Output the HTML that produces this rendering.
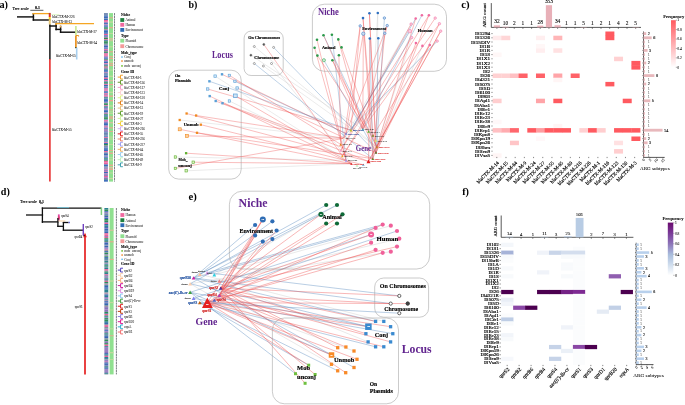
<!DOCTYPE html>
<html><head><meta charset="utf-8"><style>
html,body{margin:0;padding:0;background:#fff;width:685px;height:405px;overflow:hidden}
svg{display:block;font-family:"Liberation Serif",serif;will-change:transform}
</style></head><body>
<svg width="685" height="405" viewBox="0 0 685 405">
<rect width="685" height="405" fill="#fff"/>
<text x="-0.60" y="7.70" font-size="10" text-anchor="start" fill="#000" font-weight="bold" textLength="8.5" lengthAdjust="spacingAndGlyphs">a)</text>
<text x="12.40" y="10.40" font-size="4.9" text-anchor="start" fill="#000" stroke="#000" stroke-width="0.15" textLength="16.3" lengthAdjust="spacingAndGlyphs">Tree scale</text>
<line x1="30.30" y1="10.30" x2="43.40" y2="10.30" stroke="#222" stroke-width="0.75"/>
<text x="37.50" y="8.90" font-size="3.4" text-anchor="middle" fill="#000" stroke="#000" stroke-width="0.15" font-weight="bold" textLength="4.8" lengthAdjust="spacingAndGlyphs">0.1</text>
<line x1="17.00" y1="16.90" x2="34.10" y2="16.90" stroke="#111" stroke-width="1.45"/>
<line x1="33.40" y1="13.00" x2="33.40" y2="20.70" stroke="#111" stroke-width="1.45"/>
<line x1="33.40" y1="13.00" x2="33.40" y2="14.30" stroke="#f5a623" stroke-width="1.45"/>
<line x1="32.70" y1="13.60" x2="49.30" y2="13.60" stroke="#f5a623" stroke-width="1.3"/>
<line x1="32.70" y1="20.00" x2="50.50" y2="20.00" stroke="#111" stroke-width="1.45"/>
<line x1="49.75" y1="12.90" x2="49.75" y2="15.00" stroke="#c04030" stroke-width="2.0"/>
<line x1="49.75" y1="15.00" x2="49.75" y2="17.00" stroke="#e83020" stroke-width="2.0"/>
<line x1="49.75" y1="17.00" x2="49.75" y2="19.50" stroke="#f0d020" stroke-width="2.0"/>
<line x1="49.75" y1="19.50" x2="49.75" y2="24.50" stroke="#e8c878" stroke-width="2.0"/>
<line x1="51.40" y1="14.70" x2="59.40" y2="14.70" stroke="#d0f0b0" stroke-width="0.7"/>
<line x1="49.90" y1="24.50" x2="49.90" y2="59.50" stroke="#111" stroke-width="1.45"/>
<line x1="49.90" y1="59.00" x2="49.90" y2="181.60" stroke="#e52020" stroke-width="1.5"/>
<line x1="49.20" y1="26.00" x2="56.80" y2="26.00" stroke="#111" stroke-width="1.45"/>
<line x1="56.10" y1="23.50" x2="56.10" y2="30.20" stroke="#111" stroke-width="1.45"/>
<line x1="56.10" y1="23.00" x2="56.10" y2="25.00" stroke="#f5a623" stroke-width="1.45"/>
<line x1="56.10" y1="23.60" x2="94.00" y2="23.60" stroke="#f5a623" stroke-width="1.3"/>
<line x1="55.40" y1="29.40" x2="61.30" y2="29.40" stroke="#111" stroke-width="1.45"/>
<line x1="60.60" y1="25.70" x2="60.60" y2="32.90" stroke="#111" stroke-width="1.45"/>
<line x1="60.60" y1="25.70" x2="60.60" y2="27.50" stroke="#f0b060" stroke-width="1.45"/>
<line x1="59.90" y1="32.20" x2="75.90" y2="32.20" stroke="#111" stroke-width="1.45"/>
<line x1="75.90" y1="26.00" x2="75.90" y2="35.30" stroke="#c8e890" stroke-width="1.6"/>
<line x1="75.90" y1="35.50" x2="75.90" y2="47.70" stroke="#e88a10" stroke-width="1.6"/>
<line x1="75.90" y1="35.50" x2="78.60" y2="35.50" stroke="#e88a10" stroke-width="0.9"/>
<line x1="78.60" y1="35.50" x2="78.60" y2="36.60" stroke="#e88a10" stroke-width="0.9"/>
<line x1="75.90" y1="47.00" x2="75.90" y2="48.20" stroke="#405030" stroke-width="1.6"/>
<line x1="76.70" y1="47.70" x2="76.70" y2="59.50" stroke="#a8d0f0" stroke-width="1.6"/>
<text x="52.30" y="18.00" font-size="4.0" text-anchor="start" fill="#000" stroke="#000" stroke-width="0.04" textLength="22.2" lengthAdjust="spacingAndGlyphs">blaCTX-M-226</text>
<text x="52.40" y="22.60" font-size="4.0" text-anchor="start" fill="#000" stroke="#000" stroke-width="0.04" textLength="19.5" lengthAdjust="spacingAndGlyphs">blaCTX-M-13</text>
<text x="77.30" y="33.00" font-size="4.0" text-anchor="start" fill="#000" stroke="#000" stroke-width="0.04" textLength="19.5" lengthAdjust="spacingAndGlyphs">blaCTX-M-27</text>
<text x="77.40" y="43.90" font-size="4.0" text-anchor="start" fill="#000" stroke="#000" stroke-width="0.04" textLength="19.5" lengthAdjust="spacingAndGlyphs">blaCTX-M-14</text>
<text x="75.60" y="57.20" font-size="4.0" text-anchor="end" fill="#000" stroke="#000" stroke-width="0.04" textLength="19.7" lengthAdjust="spacingAndGlyphs">blaCTX-M-65</text>
<text x="51.90" y="130.70" font-size="4.0" text-anchor="start" fill="#000" stroke="#000" stroke-width="0.04" textLength="19.7" lengthAdjust="spacingAndGlyphs">blaCTX-M-55</text>
<rect x="104.00" y="13.10" width="3.90" height="1.05" fill="#6a84b0"/>
<rect x="104.00" y="14.10" width="3.90" height="1.65" fill="#6a84b0"/>
<rect x="104.00" y="15.70" width="3.90" height="1.05" fill="#3a6ab8"/>
<rect x="104.00" y="16.70" width="3.90" height="1.65" fill="#3a6ab8"/>
<rect x="104.00" y="18.30" width="3.90" height="0.75" fill="#6a84b0"/>
<rect x="104.00" y="19.00" width="3.90" height="1.05" fill="#3a6ab8"/>
<rect x="104.00" y="20.00" width="3.90" height="1.65" fill="#e8609a"/>
<rect x="104.00" y="21.60" width="3.90" height="1.05" fill="#e8609a"/>
<rect x="104.00" y="22.60" width="3.90" height="0.55" fill="#3a6ab8"/>
<rect x="104.00" y="23.10" width="3.90" height="1.35" fill="#3a6ab8"/>
<rect x="104.00" y="24.40" width="3.90" height="1.05" fill="#c070b0"/>
<rect x="104.00" y="25.40" width="3.90" height="1.05" fill="#3a6ab8"/>
<rect x="104.00" y="26.40" width="3.90" height="1.05" fill="#3a6ab8"/>
<rect x="104.00" y="27.40" width="3.90" height="1.05" fill="#2e8b57"/>
<rect x="104.00" y="28.40" width="3.90" height="1.05" fill="#2e8b57"/>
<rect x="104.00" y="29.40" width="3.90" height="0.55" fill="#e8609a"/>
<rect x="104.00" y="29.90" width="3.90" height="0.75" fill="#3a6ab8"/>
<rect x="104.00" y="30.60" width="3.90" height="1.65" fill="#3a6ab8"/>
<rect x="104.00" y="32.20" width="3.90" height="1.05" fill="#3a6ab8"/>
<rect x="104.00" y="33.20" width="3.90" height="0.75" fill="#3a6ab8"/>
<rect x="104.00" y="33.90" width="3.90" height="1.35" fill="#e8609a"/>
<rect x="104.00" y="35.20" width="3.90" height="0.55" fill="#3a6ab8"/>
<rect x="104.00" y="35.70" width="3.90" height="1.05" fill="#3a6ab8"/>
<rect x="104.00" y="36.70" width="3.90" height="1.05" fill="#c070b0"/>
<rect x="104.00" y="37.70" width="3.90" height="1.65" fill="#2e8b57"/>
<rect x="104.00" y="39.30" width="3.90" height="0.85" fill="#e8609a"/>
<rect x="104.00" y="40.10" width="3.90" height="0.75" fill="#3a6ab8"/>
<rect x="104.00" y="40.80" width="3.90" height="0.55" fill="#2e8b57"/>
<rect x="104.00" y="41.30" width="3.90" height="1.65" fill="#2e8b57"/>
<rect x="104.00" y="42.90" width="3.90" height="0.55" fill="#6a84b0"/>
<rect x="104.00" y="43.40" width="3.90" height="1.05" fill="#2e8b57"/>
<rect x="104.00" y="44.40" width="3.90" height="0.55" fill="#6a84b0"/>
<rect x="104.00" y="44.90" width="3.90" height="0.55" fill="#e8609a"/>
<rect x="104.00" y="45.40" width="3.90" height="0.55" fill="#3a6ab8"/>
<rect x="104.00" y="45.90" width="3.90" height="1.35" fill="#3a6ab8"/>
<rect x="104.00" y="47.20" width="3.90" height="0.55" fill="#3a6ab8"/>
<rect x="104.00" y="47.70" width="3.90" height="0.75" fill="#9070b8"/>
<rect x="104.00" y="48.40" width="3.90" height="0.85" fill="#3a6ab8"/>
<rect x="104.00" y="49.20" width="3.90" height="0.85" fill="#e8609a"/>
<rect x="104.00" y="50.00" width="3.90" height="1.05" fill="#9070b8"/>
<rect x="104.00" y="51.00" width="3.90" height="0.55" fill="#e8609a"/>
<rect x="104.00" y="51.50" width="3.90" height="1.35" fill="#2e8b57"/>
<rect x="104.00" y="52.80" width="3.90" height="0.55" fill="#3a6ab8"/>
<rect x="104.00" y="53.30" width="3.90" height="1.05" fill="#e8609a"/>
<rect x="104.00" y="54.30" width="3.90" height="1.05" fill="#e8609a"/>
<rect x="104.00" y="55.30" width="3.90" height="1.05" fill="#e8609a"/>
<rect x="104.00" y="56.30" width="3.90" height="1.35" fill="#9070b8"/>
<rect x="104.00" y="57.60" width="3.90" height="1.05" fill="#3a6ab8"/>
<rect x="104.00" y="58.60" width="3.90" height="0.55" fill="#3a6ab8"/>
<rect x="104.00" y="59.10" width="3.90" height="0.75" fill="#2e8b57"/>
<rect x="104.00" y="59.80" width="3.90" height="1.65" fill="#c070b0"/>
<rect x="104.00" y="61.40" width="3.90" height="1.65" fill="#3a6ab8"/>
<rect x="104.00" y="63.00" width="3.90" height="0.55" fill="#e8609a"/>
<rect x="104.00" y="63.50" width="3.90" height="1.05" fill="#c070b0"/>
<rect x="104.00" y="64.50" width="3.90" height="1.05" fill="#3a6ab8"/>
<rect x="104.00" y="65.50" width="3.90" height="0.55" fill="#2e8b57"/>
<rect x="104.00" y="66.00" width="3.90" height="0.75" fill="#e8609a"/>
<rect x="104.00" y="66.70" width="3.90" height="0.85" fill="#2e8b57"/>
<rect x="104.00" y="67.50" width="3.90" height="1.05" fill="#e8609a"/>
<rect x="104.00" y="68.50" width="3.90" height="0.85" fill="#3a6ab8"/>
<rect x="104.00" y="69.30" width="3.90" height="0.55" fill="#2e8b57"/>
<rect x="104.00" y="69.80" width="3.90" height="1.05" fill="#3a6ab8"/>
<rect x="104.00" y="70.80" width="3.90" height="0.55" fill="#3a6ab8"/>
<rect x="104.00" y="71.30" width="3.90" height="0.85" fill="#3a6ab8"/>
<rect x="104.00" y="72.10" width="3.90" height="0.75" fill="#c070b0"/>
<rect x="104.00" y="72.80" width="3.90" height="1.05" fill="#6a84b0"/>
<rect x="104.00" y="73.80" width="3.90" height="0.75" fill="#6a84b0"/>
<rect x="104.00" y="74.50" width="3.90" height="0.75" fill="#3a6ab8"/>
<rect x="104.00" y="75.20" width="3.90" height="0.85" fill="#6a84b0"/>
<rect x="104.00" y="76.00" width="3.90" height="1.65" fill="#3a6ab8"/>
<rect x="104.00" y="77.60" width="3.90" height="1.35" fill="#e8609a"/>
<rect x="104.00" y="78.90" width="3.90" height="1.35" fill="#3a6ab8"/>
<rect x="104.00" y="80.20" width="3.90" height="1.05" fill="#e8609a"/>
<rect x="104.00" y="81.20" width="3.90" height="1.05" fill="#6a84b0"/>
<rect x="104.00" y="82.20" width="3.90" height="1.05" fill="#2e8b57"/>
<rect x="104.00" y="83.20" width="3.90" height="0.55" fill="#2e8b57"/>
<rect x="104.00" y="83.70" width="3.90" height="0.55" fill="#3a6ab8"/>
<rect x="104.00" y="84.20" width="3.90" height="0.85" fill="#e8609a"/>
<rect x="104.00" y="85.00" width="3.90" height="1.35" fill="#3a6ab8"/>
<rect x="104.00" y="86.30" width="3.90" height="1.05" fill="#6a84b0"/>
<rect x="104.00" y="87.30" width="3.90" height="1.05" fill="#3a6ab8"/>
<rect x="104.00" y="88.30" width="3.90" height="1.05" fill="#e8609a"/>
<rect x="104.00" y="89.30" width="3.90" height="1.35" fill="#c070b0"/>
<rect x="104.00" y="90.60" width="3.90" height="0.75" fill="#e8609a"/>
<rect x="104.00" y="91.30" width="3.90" height="1.05" fill="#3a6ab8"/>
<rect x="104.00" y="92.30" width="3.90" height="1.05" fill="#3a6ab8"/>
<rect x="104.00" y="93.30" width="3.90" height="0.85" fill="#e8609a"/>
<rect x="104.00" y="94.10" width="3.90" height="0.75" fill="#9070b8"/>
<rect x="104.00" y="94.80" width="3.90" height="0.55" fill="#e8609a"/>
<rect x="104.00" y="95.30" width="3.90" height="1.05" fill="#e8609a"/>
<rect x="104.00" y="96.30" width="3.90" height="0.55" fill="#e8609a"/>
<rect x="104.00" y="96.80" width="3.90" height="0.85" fill="#3a6ab8"/>
<rect x="104.00" y="97.60" width="3.90" height="0.75" fill="#2e8b57"/>
<rect x="104.00" y="98.30" width="3.90" height="0.75" fill="#6a84b0"/>
<rect x="104.00" y="99.00" width="3.90" height="0.85" fill="#3a6ab8"/>
<rect x="104.00" y="99.80" width="3.90" height="1.35" fill="#3a6ab8"/>
<rect x="104.00" y="101.10" width="3.90" height="0.75" fill="#3a6ab8"/>
<rect x="104.00" y="101.80" width="3.90" height="0.55" fill="#3a6ab8"/>
<rect x="104.00" y="102.30" width="3.90" height="0.85" fill="#9070b8"/>
<rect x="104.00" y="103.10" width="3.90" height="0.55" fill="#2e8b57"/>
<rect x="104.00" y="103.60" width="3.90" height="1.35" fill="#2e8b57"/>
<rect x="104.00" y="104.90" width="3.90" height="0.55" fill="#9070b8"/>
<rect x="104.00" y="105.40" width="3.90" height="0.85" fill="#e8609a"/>
<rect x="104.00" y="106.20" width="3.90" height="0.55" fill="#2e8b57"/>
<rect x="104.00" y="106.70" width="3.90" height="1.05" fill="#3a6ab8"/>
<rect x="104.00" y="107.70" width="3.90" height="0.55" fill="#6a84b0"/>
<rect x="104.00" y="108.20" width="3.90" height="1.35" fill="#9070b8"/>
<rect x="104.00" y="109.50" width="3.90" height="0.75" fill="#9070b8"/>
<rect x="104.00" y="110.20" width="3.90" height="0.85" fill="#3a6ab8"/>
<rect x="104.00" y="111.00" width="3.90" height="1.35" fill="#3a6ab8"/>
<rect x="104.00" y="112.30" width="3.90" height="0.55" fill="#6a84b0"/>
<rect x="104.00" y="112.80" width="3.90" height="1.05" fill="#c070b0"/>
<rect x="104.00" y="113.80" width="3.90" height="0.55" fill="#6a84b0"/>
<rect x="104.00" y="114.30" width="3.90" height="1.05" fill="#2e8b57"/>
<rect x="104.00" y="115.30" width="3.90" height="1.35" fill="#3a6ab8"/>
<rect x="104.00" y="116.60" width="3.90" height="1.05" fill="#2e8b57"/>
<rect x="104.00" y="117.60" width="3.90" height="0.55" fill="#2e8b57"/>
<rect x="104.00" y="118.10" width="3.90" height="1.35" fill="#2e8b57"/>
<rect x="104.00" y="119.40" width="3.90" height="0.85" fill="#6a84b0"/>
<rect x="104.00" y="120.20" width="3.90" height="1.35" fill="#e8609a"/>
<rect x="104.00" y="121.50" width="3.90" height="1.35" fill="#9070b8"/>
<rect x="104.00" y="122.80" width="3.90" height="1.05" fill="#3a6ab8"/>
<rect x="104.00" y="123.80" width="3.90" height="1.65" fill="#3a6ab8"/>
<rect x="104.00" y="125.40" width="3.90" height="1.05" fill="#9070b8"/>
<rect x="104.00" y="126.40" width="3.90" height="0.55" fill="#e8609a"/>
<rect x="104.00" y="126.90" width="3.90" height="0.55" fill="#3a6ab8"/>
<rect x="104.00" y="127.40" width="3.90" height="0.75" fill="#c070b0"/>
<rect x="104.00" y="128.10" width="3.90" height="0.55" fill="#3a6ab8"/>
<rect x="104.00" y="128.60" width="3.90" height="1.05" fill="#3a6ab8"/>
<rect x="104.00" y="129.60" width="3.90" height="1.05" fill="#e8609a"/>
<rect x="104.00" y="130.60" width="3.90" height="0.55" fill="#3a6ab8"/>
<rect x="104.00" y="131.10" width="3.90" height="0.75" fill="#9070b8"/>
<rect x="104.00" y="131.80" width="3.90" height="0.75" fill="#3a6ab8"/>
<rect x="104.00" y="132.50" width="3.90" height="1.65" fill="#6a84b0"/>
<rect x="104.00" y="134.10" width="3.90" height="1.35" fill="#6a84b0"/>
<rect x="104.00" y="135.40" width="3.90" height="1.05" fill="#6a84b0"/>
<rect x="104.00" y="136.40" width="3.90" height="0.85" fill="#3a6ab8"/>
<rect x="104.00" y="137.20" width="3.90" height="0.85" fill="#e8609a"/>
<rect x="104.00" y="138.00" width="3.90" height="1.05" fill="#6a84b0"/>
<rect x="104.00" y="139.00" width="3.90" height="1.65" fill="#6a84b0"/>
<rect x="104.00" y="140.60" width="3.90" height="0.75" fill="#3a6ab8"/>
<rect x="104.00" y="141.30" width="3.90" height="1.05" fill="#6a84b0"/>
<rect x="104.00" y="142.30" width="3.90" height="0.75" fill="#e8609a"/>
<rect x="104.00" y="143.00" width="3.90" height="1.05" fill="#3a6ab8"/>
<rect x="104.00" y="144.00" width="3.90" height="1.65" fill="#2e8b57"/>
<rect x="104.00" y="145.60" width="3.90" height="0.55" fill="#c070b0"/>
<rect x="104.00" y="146.10" width="3.90" height="0.85" fill="#6a84b0"/>
<rect x="104.00" y="146.90" width="3.90" height="0.55" fill="#3a6ab8"/>
<rect x="104.00" y="147.40" width="3.90" height="0.85" fill="#6a84b0"/>
<rect x="104.00" y="148.20" width="3.90" height="1.65" fill="#3a6ab8"/>
<rect x="104.00" y="149.80" width="3.90" height="1.35" fill="#3a6ab8"/>
<rect x="104.00" y="151.10" width="3.90" height="1.35" fill="#e8609a"/>
<rect x="104.00" y="152.40" width="3.90" height="1.65" fill="#6a84b0"/>
<rect x="104.00" y="154.00" width="3.90" height="1.05" fill="#3a6ab8"/>
<rect x="104.00" y="155.00" width="3.90" height="0.55" fill="#6a84b0"/>
<rect x="104.00" y="155.50" width="3.90" height="0.85" fill="#6a84b0"/>
<rect x="104.00" y="156.30" width="3.90" height="0.55" fill="#9070b8"/>
<rect x="104.00" y="156.80" width="3.90" height="0.85" fill="#3a6ab8"/>
<rect x="104.00" y="157.60" width="3.90" height="0.85" fill="#3a6ab8"/>
<rect x="104.00" y="158.40" width="3.90" height="1.05" fill="#2e8b57"/>
<rect x="104.00" y="159.40" width="3.90" height="0.75" fill="#3a6ab8"/>
<rect x="104.00" y="160.10" width="3.90" height="0.75" fill="#2e8b57"/>
<rect x="104.00" y="160.80" width="3.90" height="1.65" fill="#e8609a"/>
<rect x="104.00" y="162.40" width="3.90" height="1.65" fill="#e8609a"/>
<rect x="104.00" y="164.00" width="3.90" height="0.55" fill="#c070b0"/>
<rect x="104.00" y="164.50" width="3.90" height="0.55" fill="#3a6ab8"/>
<rect x="104.00" y="165.00" width="3.90" height="1.35" fill="#3a6ab8"/>
<rect x="104.00" y="166.30" width="3.90" height="1.35" fill="#6a84b0"/>
<rect x="104.00" y="167.60" width="3.90" height="0.55" fill="#9070b8"/>
<rect x="104.00" y="168.10" width="3.90" height="0.75" fill="#6a84b0"/>
<rect x="104.00" y="168.80" width="3.90" height="0.85" fill="#e8609a"/>
<rect x="104.00" y="169.60" width="3.90" height="0.55" fill="#9070b8"/>
<rect x="104.00" y="170.10" width="3.90" height="1.05" fill="#9070b8"/>
<rect x="104.00" y="171.10" width="3.90" height="0.75" fill="#e8609a"/>
<rect x="104.00" y="171.80" width="3.90" height="1.65" fill="#3a6ab8"/>
<rect x="104.00" y="173.40" width="3.90" height="1.35" fill="#c070b0"/>
<rect x="104.00" y="174.70" width="3.90" height="1.05" fill="#3a6ab8"/>
<rect x="104.00" y="175.70" width="3.90" height="1.65" fill="#e8609a"/>
<rect x="104.00" y="177.30" width="3.90" height="1.65" fill="#9070b8"/>
<rect x="104.00" y="178.90" width="3.90" height="0.75" fill="#2e8b57"/>
<rect x="104.00" y="179.60" width="3.90" height="1.35" fill="#3a6ab8"/>
<rect x="104.00" y="180.90" width="3.90" height="0.75" fill="#3a6ab8"/>
<rect x="109.00" y="13.10" width="4.00" height="168.50" fill="#90e090"/>
<rect x="109.00" y="17.41" width="4.00" height="0.80" fill="#f4a090"/>
<rect x="109.00" y="21.47" width="4.00" height="1.20" fill="#c8d8a0"/>
<rect x="109.00" y="27.22" width="4.00" height="1.00" fill="#f4a090"/>
<rect x="109.00" y="33.14" width="4.00" height="0.80" fill="#c8d8a0"/>
<rect x="109.00" y="38.33" width="4.00" height="1.20" fill="#e8b8a0"/>
<rect x="109.00" y="40.38" width="4.00" height="0.80" fill="#e8b8a0"/>
<rect x="109.00" y="46.29" width="4.00" height="1.00" fill="#c8d8a0"/>
<rect x="109.00" y="51.35" width="4.00" height="1.00" fill="#f4a090"/>
<rect x="109.00" y="56.09" width="4.00" height="0.80" fill="#f4a090"/>
<rect x="109.00" y="57.96" width="4.00" height="1.00" fill="#f4a090"/>
<rect x="109.00" y="61.35" width="4.00" height="1.00" fill="#c8d8a0"/>
<rect x="109.00" y="62.98" width="4.00" height="0.80" fill="#f4a090"/>
<rect x="109.00" y="64.64" width="4.00" height="1.20" fill="#f4a090"/>
<rect x="109.00" y="69.69" width="4.00" height="0.80" fill="#c8d8a0"/>
<rect x="109.00" y="75.68" width="4.00" height="1.20" fill="#c8d8a0"/>
<rect x="109.00" y="80.24" width="4.00" height="1.00" fill="#e8b8a0"/>
<rect x="109.00" y="83.95" width="4.00" height="1.20" fill="#f4a090"/>
<rect x="109.00" y="86.45" width="4.00" height="1.20" fill="#c8d8a0"/>
<rect x="109.00" y="91.69" width="4.00" height="1.20" fill="#c8d8a0"/>
<rect x="109.00" y="95.54" width="4.00" height="1.20" fill="#f4a090"/>
<rect x="109.00" y="100.06" width="4.00" height="1.20" fill="#f4a090"/>
<rect x="109.00" y="105.39" width="4.00" height="1.20" fill="#c8d8a0"/>
<rect x="109.00" y="109.47" width="4.00" height="0.80" fill="#f4a090"/>
<rect x="109.00" y="111.48" width="4.00" height="0.80" fill="#c8d8a0"/>
<rect x="109.00" y="113.11" width="4.00" height="0.80" fill="#c8d8a0"/>
<rect x="109.00" y="116.41" width="4.00" height="1.20" fill="#f4a090"/>
<rect x="109.00" y="118.33" width="4.00" height="0.80" fill="#f4a090"/>
<rect x="109.00" y="122.25" width="4.00" height="1.00" fill="#e8b8a0"/>
<rect x="109.00" y="127.36" width="4.00" height="1.00" fill="#f4a090"/>
<rect x="109.00" y="130.99" width="4.00" height="0.80" fill="#f4a090"/>
<rect x="109.00" y="136.54" width="4.00" height="1.00" fill="#c8d8a0"/>
<rect x="109.00" y="138.53" width="4.00" height="1.00" fill="#c8d8a0"/>
<rect x="109.00" y="144.19" width="4.00" height="0.80" fill="#c8d8a0"/>
<rect x="109.00" y="150.09" width="4.00" height="0.80" fill="#f4a090"/>
<rect x="109.00" y="152.61" width="4.00" height="1.20" fill="#f4a090"/>
<rect x="109.00" y="157.37" width="4.00" height="0.80" fill="#c8d8a0"/>
<rect x="109.00" y="159.34" width="4.00" height="1.20" fill="#c8d8a0"/>
<rect x="109.00" y="164.67" width="4.00" height="1.20" fill="#f4a090"/>
<rect x="109.00" y="167.06" width="4.00" height="1.20" fill="#e8b8a0"/>
<rect x="109.00" y="168.67" width="4.00" height="1.20" fill="#f4a090"/>
<rect x="109.00" y="172.55" width="4.00" height="0.80" fill="#c8d8a0"/>
<rect x="109.00" y="177.94" width="4.00" height="1.20" fill="#c8d8a0"/>
<line x1="114.50" y1="13.10" x2="114.50" y2="181.60" stroke="#333a40" stroke-width="0.65" stroke-dasharray="2.2,0.5"/>
<text x="121.00" y="16.40" font-size="4.3" text-anchor="start" fill="#000" stroke="#000" stroke-width="0.1" font-weight="bold" textLength="9.04" lengthAdjust="spacingAndGlyphs">Niche</text>
<rect x="120.30" y="18.10" width="3.90" height="3.80" fill="#1e8040"/>
<text x="125.40" y="21.40" font-size="4.2" text-anchor="start" fill="#111" stroke="#111" stroke-width="0.03" textLength="10.08" lengthAdjust="spacingAndGlyphs">Animal</text>
<rect x="120.30" y="22.90" width="3.90" height="3.80" fill="#f06aa0"/>
<text x="125.40" y="26.20" font-size="4.2" text-anchor="start" fill="#111" stroke="#111" stroke-width="0.03" textLength="9.89" lengthAdjust="spacingAndGlyphs">Human</text>
<rect x="120.30" y="28.00" width="3.90" height="3.80" fill="#2f6db5"/>
<text x="125.40" y="31.30" font-size="4.2" text-anchor="start" fill="#111" stroke="#111" stroke-width="0.03" textLength="17.54" lengthAdjust="spacingAndGlyphs">Environment</text>
<text x="121.00" y="37.40" font-size="4.3" text-anchor="start" fill="#000" stroke="#000" stroke-width="0.1" font-weight="bold" textLength="7.74" lengthAdjust="spacingAndGlyphs">Type</text>
<rect x="120.30" y="38.80" width="3.90" height="3.80" fill="#90e090"/>
<text x="125.40" y="42.10" font-size="4.2" text-anchor="start" fill="#111" stroke="#111" stroke-width="0.03" textLength="10.83" lengthAdjust="spacingAndGlyphs">Plasmid</text>
<rect x="120.30" y="44.30" width="3.90" height="3.80" fill="#f49a9a"/>
<text x="125.40" y="47.60" font-size="4.2" text-anchor="start" fill="#111" stroke="#111" stroke-width="0.03" textLength="18.11" lengthAdjust="spacingAndGlyphs">Chromosome</text>
<text x="121.00" y="54.10" font-size="4.3" text-anchor="start" fill="#000" stroke="#000" stroke-width="0.1" font-weight="bold" textLength="16.02" lengthAdjust="spacingAndGlyphs">Mob_type</text>
<rect x="121.20" y="56.20" width="1.60" height="1.60" fill="#60b8f0" rx="0.5"/>
<text x="124.20" y="58.40" font-size="4.2" text-anchor="start" fill="#111" stroke="#111" stroke-width="0.03" textLength="6.53" lengthAdjust="spacingAndGlyphs">Conj</text>
<rect x="121.20" y="60.20" width="1.60" height="1.60" fill="#f08020" rx="0.5"/>
<text x="124.20" y="62.40" font-size="4.2" text-anchor="start" fill="#111" stroke="#111" stroke-width="0.03" textLength="9.33" lengthAdjust="spacingAndGlyphs">unmob</text>
<rect x="121.20" y="65.10" width="1.60" height="1.60" fill="#70c030" rx="0.5"/>
<text x="124.20" y="67.30" font-size="4.2" text-anchor="start" fill="#111" stroke="#111" stroke-width="0.03" textLength="16.8" lengthAdjust="spacingAndGlyphs">mob_unconj</text>
<text x="121.00" y="73.20" font-size="4.3" text-anchor="start" fill="#000" stroke="#000" stroke-width="0.1" font-weight="bold" textLength="13.25" lengthAdjust="spacingAndGlyphs">Gene ID</text>
<path d="M117.70,77.10 H120.50 M122.90,75.20 H120.50 V79.00 H122.90" stroke="#f0a030" stroke-width="1.0" fill="none"/>
<text x="123.90" y="78.50" font-size="4.2" text-anchor="start" fill="#111" stroke="#111" stroke-width="0.03" textLength="17.73" lengthAdjust="spacingAndGlyphs">blaCTX-M-1</text>
<path d="M117.70,82.26 H120.50 M122.90,80.36 H120.50 V84.16 H122.90" stroke="#6a9a30" stroke-width="1.0" fill="none"/>
<text x="123.90" y="83.66" font-size="4.2" text-anchor="start" fill="#111" stroke="#111" stroke-width="0.03" textLength="21.09" lengthAdjust="spacingAndGlyphs">blaCTX-M-136</text>
<path d="M117.70,87.42 H120.50 M122.90,85.52 H120.50 V89.32 H122.90" stroke="#f4a0c8" stroke-width="1.0" fill="none"/>
<text x="123.90" y="88.82" font-size="4.2" text-anchor="start" fill="#111" stroke="#111" stroke-width="0.03" textLength="20.97" lengthAdjust="spacingAndGlyphs">blaCTX-M-117</text>
<path d="M117.70,92.58 H120.50 M122.90,90.68 H120.50 V94.48 H122.90" stroke="#fcd4d4" stroke-width="1.0" fill="none"/>
<text x="123.90" y="93.98" font-size="4.2" text-anchor="start" fill="#111" stroke="#111" stroke-width="0.03" textLength="21.09" lengthAdjust="spacingAndGlyphs">blaCTX-M-123</text>
<path d="M117.70,97.74 H120.50 M122.90,95.84 H120.50 V99.64 H122.90" stroke="#e0f090" stroke-width="1.0" fill="none"/>
<text x="123.90" y="99.14" font-size="4.2" text-anchor="start" fill="#111" stroke="#111" stroke-width="0.03" textLength="21.09" lengthAdjust="spacingAndGlyphs">blaCTX-M-130</text>
<path d="M117.70,102.90 H120.50 M122.90,101.00 H120.50 V104.80 H122.90" stroke="#e08020" stroke-width="1.0" fill="none"/>
<text x="123.90" y="104.30" font-size="4.2" text-anchor="start" fill="#111" stroke="#111" stroke-width="0.03" textLength="19.41" lengthAdjust="spacingAndGlyphs">blaCTX-M-14</text>
<path d="M117.70,108.06 H120.50 M122.90,106.16 H120.50 V109.96 H122.90" stroke="#e8c080" stroke-width="1.0" fill="none"/>
<text x="123.90" y="109.46" font-size="4.2" text-anchor="start" fill="#111" stroke="#111" stroke-width="0.03" textLength="19.41" lengthAdjust="spacingAndGlyphs">blaCTX-M-13</text>
<path d="M117.70,113.22 H120.50 M122.90,111.32 H120.50 V115.12 H122.90" stroke="#60a030" stroke-width="1.0" fill="none"/>
<text x="123.90" y="114.62" font-size="4.2" text-anchor="start" fill="#111" stroke="#111" stroke-width="0.03" textLength="19.41" lengthAdjust="spacingAndGlyphs">blaCTX-M-19</text>
<path d="M117.70,118.38 H120.50 M122.90,116.48 H120.50 V120.28 H122.90" stroke="#d0f0a0" stroke-width="1.0" fill="none"/>
<text x="123.90" y="119.78" font-size="4.2" text-anchor="start" fill="#111" stroke="#111" stroke-width="0.03" textLength="19.41" lengthAdjust="spacingAndGlyphs">blaCTX-M-27</text>
<path d="M117.70,123.54 H120.50 M122.90,121.64 H120.50 V125.44 H122.90" stroke="#f0d040" stroke-width="1.0" fill="none"/>
<text x="123.90" y="124.94" font-size="4.2" text-anchor="start" fill="#111" stroke="#111" stroke-width="0.03" textLength="17.73" lengthAdjust="spacingAndGlyphs">blaCTX-M-3</text>
<path d="M117.70,128.70 H120.50 M122.90,126.80 H120.50 V130.60 H122.90" stroke="#d0b0f0" stroke-width="1.0" fill="none"/>
<text x="123.90" y="130.10" font-size="4.2" text-anchor="start" fill="#111" stroke="#111" stroke-width="0.03" textLength="21.09" lengthAdjust="spacingAndGlyphs">blaCTX-M-216</text>
<path d="M117.70,133.86 H120.50 M122.90,131.96 H120.50 V135.76 H122.90" stroke="#e02020" stroke-width="1.0" fill="none"/>
<text x="123.90" y="135.26" font-size="4.2" text-anchor="start" fill="#111" stroke="#111" stroke-width="0.03" textLength="19.41" lengthAdjust="spacingAndGlyphs">blaCTX-M-55</text>
<path d="M117.70,139.02 H120.50 M122.90,137.12 H120.50 V140.92 H122.90" stroke="#f08060" stroke-width="1.0" fill="none"/>
<text x="123.90" y="140.42" font-size="4.2" text-anchor="start" fill="#111" stroke="#111" stroke-width="0.03" textLength="21.09" lengthAdjust="spacingAndGlyphs">blaCTX-M-226</text>
<path d="M117.70,144.18 H120.50 M122.90,142.28 H120.50 V146.08 H122.90" stroke="#a0a0f0" stroke-width="1.0" fill="none"/>
<text x="123.90" y="145.58" font-size="4.2" text-anchor="start" fill="#111" stroke="#111" stroke-width="0.03" textLength="21.09" lengthAdjust="spacingAndGlyphs">blaCTX-M-227</text>
<path d="M117.70,149.34 H120.50 M122.90,147.44 H120.50 V151.24 H122.90" stroke="#f0b060" stroke-width="1.0" fill="none"/>
<text x="123.90" y="150.74" font-size="4.2" text-anchor="start" fill="#111" stroke="#111" stroke-width="0.03" textLength="19.41" lengthAdjust="spacingAndGlyphs">blaCTX-M-64</text>
<path d="M117.70,154.50 H120.50 M122.90,152.60 H120.50 V156.40 H122.90" stroke="#a0d0f0" stroke-width="1.0" fill="none"/>
<text x="123.90" y="155.90" font-size="4.2" text-anchor="start" fill="#111" stroke="#111" stroke-width="0.03" textLength="19.41" lengthAdjust="spacingAndGlyphs">blaCTX-M-65</text>
<path d="M117.70,159.66 H120.50 M122.90,157.76 H120.50 V161.56 H122.90" stroke="#c0f0c0" stroke-width="1.0" fill="none"/>
<text x="123.90" y="161.06" font-size="4.2" text-anchor="start" fill="#111" stroke="#111" stroke-width="0.03" textLength="19.41" lengthAdjust="spacingAndGlyphs">blaCTX-M-69</text>
<path d="M117.70,164.82 H120.50 M122.90,162.92 H120.50 V166.72 H122.90" stroke="#40a0b0" stroke-width="1.0" fill="none"/>
<text x="123.90" y="166.22" font-size="4.2" text-anchor="start" fill="#111" stroke="#111" stroke-width="0.03" textLength="17.73" lengthAdjust="spacingAndGlyphs">blaCTX-M-9</text>
<text x="0.80" y="195.40" font-size="10" text-anchor="start" fill="#000" font-weight="bold" textLength="9.0" lengthAdjust="spacingAndGlyphs">d)</text>
<text x="20.10" y="202.90" font-size="4.9" text-anchor="start" fill="#000" stroke="#000" stroke-width="0.15" textLength="16.8" lengthAdjust="spacingAndGlyphs">Tree scale</text>
<text x="41.45" y="202.50" font-size="4.6" text-anchor="middle" fill="#000" stroke="#000" stroke-width="0.15" font-weight="bold" textLength="4.9" lengthAdjust="spacingAndGlyphs">0.1</text>
<line x1="40.00" y1="203.50" x2="43.00" y2="203.50" stroke="#333" stroke-width="0.6"/>
<line x1="26.00" y1="215.00" x2="43.10" y2="215.00" stroke="#111" stroke-width="1.3"/>
<line x1="42.40" y1="207.40" x2="42.40" y2="222.90" stroke="#111" stroke-width="1.3"/>
<line x1="41.80" y1="208.10" x2="101.40" y2="208.10" stroke="#111" stroke-width="1.3"/>
<line x1="57.10" y1="207.60" x2="69.00" y2="207.60" stroke="#70c8e0" stroke-width="0.8"/>
<line x1="101.40" y1="207.60" x2="101.40" y2="215.00" stroke="#80d080" stroke-width="1.5"/>
<line x1="41.80" y1="221.90" x2="58.50" y2="221.90" stroke="#111" stroke-width="1.3"/>
<line x1="58.80" y1="214.40" x2="58.80" y2="220.50" stroke="#e040a0" stroke-width="1.8"/>
<line x1="58.80" y1="216.50" x2="58.80" y2="219.00" stroke="#e04070" stroke-width="1.8"/>
<line x1="57.90" y1="218.00" x2="57.90" y2="227.00" stroke="#111" stroke-width="1.3"/>
<line x1="58.50" y1="221.00" x2="65.40" y2="221.00" stroke="#f8d0a0" stroke-width="1.0"/>
<line x1="57.30" y1="226.30" x2="64.00" y2="226.30" stroke="#111" stroke-width="1.3"/>
<line x1="63.40" y1="222.00" x2="63.40" y2="230.90" stroke="#111" stroke-width="1.3"/>
<line x1="62.80" y1="222.50" x2="68.60" y2="222.50" stroke="#111" stroke-width="1.3"/>
<line x1="68.60" y1="222.50" x2="70.00" y2="222.50" stroke="#7070e0" stroke-width="1.6"/>
<line x1="62.80" y1="230.20" x2="83.50" y2="230.20" stroke="#111" stroke-width="1.3"/>
<line x1="83.30" y1="223.90" x2="83.30" y2="235.60" stroke="#7040c0" stroke-width="1.4"/>
<line x1="85.00" y1="234.50" x2="85.00" y2="374.40" stroke="#e52020" stroke-width="1.7"/>
<path d="M85,232.6 L86.8,237.2 L83.2,237.2 Z" fill="#e52020"/>
<line x1="83.30" y1="235.60" x2="85.00" y2="235.60" stroke="#111" stroke-width="0.8"/>
<text x="61.20" y="216.80" font-size="3.4" text-anchor="start" fill="#000" stroke="#000" stroke-width="0.03" textLength="7.5" lengthAdjust="spacingAndGlyphs">qnrS4</text>
<text x="85.30" y="228.40" font-size="3.4" text-anchor="start" fill="#000" stroke="#000" stroke-width="0.03" textLength="7.5" lengthAdjust="spacingAndGlyphs">qnrS2</text>
<text x="82.20" y="237.90" font-size="3.4" text-anchor="end" fill="#000" stroke="#000" stroke-width="0.03" textLength="7.6" lengthAdjust="spacingAndGlyphs">qnrB4</text>
<text x="82.80" y="308.30" font-size="3.4" text-anchor="end" fill="#000" stroke="#000" stroke-width="0.03" textLength="8" lengthAdjust="spacingAndGlyphs">qnrS1</text>
<rect x="104.40" y="208.00" width="3.90" height="1.65" fill="#2a8090"/>
<rect x="104.40" y="209.60" width="3.90" height="1.65" fill="#2e8b57"/>
<rect x="104.40" y="211.20" width="3.90" height="1.05" fill="#3866b0"/>
<rect x="104.40" y="212.20" width="3.90" height="1.05" fill="#8a70b8"/>
<rect x="104.40" y="213.20" width="3.90" height="0.75" fill="#8090a0"/>
<rect x="104.40" y="213.90" width="3.90" height="0.85" fill="#3866b0"/>
<rect x="104.40" y="214.70" width="3.90" height="0.75" fill="#8a70b8"/>
<rect x="104.40" y="215.40" width="3.90" height="0.55" fill="#2e8b57"/>
<rect x="104.40" y="215.90" width="3.90" height="1.35" fill="#3866b0"/>
<rect x="104.40" y="217.20" width="3.90" height="0.55" fill="#8a70b8"/>
<rect x="104.40" y="217.70" width="3.90" height="1.35" fill="#3866b0"/>
<rect x="104.40" y="219.00" width="3.90" height="1.65" fill="#2e8b57"/>
<rect x="104.40" y="220.60" width="3.90" height="1.65" fill="#2e8b57"/>
<rect x="104.40" y="222.20" width="3.90" height="0.85" fill="#8a70b8"/>
<rect x="104.40" y="223.00" width="3.90" height="1.05" fill="#e8609a"/>
<rect x="104.40" y="224.00" width="3.90" height="1.35" fill="#3866b0"/>
<rect x="104.40" y="225.30" width="3.90" height="1.65" fill="#2a8090"/>
<rect x="104.40" y="226.90" width="3.90" height="1.05" fill="#3866b0"/>
<rect x="104.40" y="227.90" width="3.90" height="0.85" fill="#8a70b8"/>
<rect x="104.40" y="228.70" width="3.90" height="1.65" fill="#3866b0"/>
<rect x="104.40" y="230.30" width="3.90" height="1.35" fill="#3866b0"/>
<rect x="104.40" y="231.60" width="3.90" height="1.65" fill="#3866b0"/>
<rect x="104.40" y="233.20" width="3.90" height="1.35" fill="#e8609a"/>
<rect x="104.40" y="234.50" width="3.90" height="1.65" fill="#e8609a"/>
<rect x="104.40" y="236.10" width="3.90" height="0.85" fill="#8a70b8"/>
<rect x="104.40" y="236.90" width="3.90" height="1.05" fill="#e8609a"/>
<rect x="104.40" y="237.90" width="3.90" height="0.55" fill="#2e8b57"/>
<rect x="104.40" y="238.40" width="3.90" height="1.05" fill="#2e8b57"/>
<rect x="104.40" y="239.40" width="3.90" height="0.85" fill="#2a8090"/>
<rect x="104.40" y="240.20" width="3.90" height="0.85" fill="#2a8090"/>
<rect x="104.40" y="241.00" width="3.90" height="0.85" fill="#2e8b57"/>
<rect x="104.40" y="241.80" width="3.90" height="0.85" fill="#8a70b8"/>
<rect x="104.40" y="242.60" width="3.90" height="1.65" fill="#3866b0"/>
<rect x="104.40" y="244.20" width="3.90" height="0.75" fill="#3866b0"/>
<rect x="104.40" y="244.90" width="3.90" height="0.55" fill="#8a70b8"/>
<rect x="104.40" y="245.40" width="3.90" height="0.55" fill="#8090a0"/>
<rect x="104.40" y="245.90" width="3.90" height="1.65" fill="#3866b0"/>
<rect x="104.40" y="247.50" width="3.90" height="0.85" fill="#8a70b8"/>
<rect x="104.40" y="248.30" width="3.90" height="1.35" fill="#8a70b8"/>
<rect x="104.40" y="249.60" width="3.90" height="1.05" fill="#e8609a"/>
<rect x="104.40" y="250.60" width="3.90" height="0.55" fill="#2e8b57"/>
<rect x="104.40" y="251.10" width="3.90" height="1.05" fill="#3866b0"/>
<rect x="104.40" y="252.10" width="3.90" height="0.75" fill="#8090a0"/>
<rect x="104.40" y="252.80" width="3.90" height="1.35" fill="#2e8b57"/>
<rect x="104.40" y="254.10" width="3.90" height="0.75" fill="#8090a0"/>
<rect x="104.40" y="254.80" width="3.90" height="0.55" fill="#8a70b8"/>
<rect x="104.40" y="255.30" width="3.90" height="1.05" fill="#8090a0"/>
<rect x="104.40" y="256.30" width="3.90" height="0.85" fill="#2e8b57"/>
<rect x="104.40" y="257.10" width="3.90" height="1.65" fill="#3866b0"/>
<rect x="104.40" y="258.70" width="3.90" height="0.75" fill="#2e8b57"/>
<rect x="104.40" y="259.40" width="3.90" height="0.85" fill="#3866b0"/>
<rect x="104.40" y="260.20" width="3.90" height="0.75" fill="#8090a0"/>
<rect x="104.40" y="260.90" width="3.90" height="1.05" fill="#2a8090"/>
<rect x="104.40" y="261.90" width="3.90" height="0.75" fill="#2e8b57"/>
<rect x="104.40" y="262.60" width="3.90" height="1.05" fill="#8a70b8"/>
<rect x="104.40" y="263.60" width="3.90" height="0.75" fill="#8090a0"/>
<rect x="104.40" y="264.30" width="3.90" height="1.05" fill="#2a8090"/>
<rect x="104.40" y="265.30" width="3.90" height="0.85" fill="#2e8b57"/>
<rect x="104.40" y="266.10" width="3.90" height="0.75" fill="#2a8090"/>
<rect x="104.40" y="266.80" width="3.90" height="1.05" fill="#8090a0"/>
<rect x="104.40" y="267.80" width="3.90" height="1.35" fill="#2a8090"/>
<rect x="104.40" y="269.10" width="3.90" height="1.65" fill="#e8609a"/>
<rect x="104.40" y="270.70" width="3.90" height="1.05" fill="#8090a0"/>
<rect x="104.40" y="271.70" width="3.90" height="1.05" fill="#2e8b57"/>
<rect x="104.40" y="272.70" width="3.90" height="1.65" fill="#2a8090"/>
<rect x="104.40" y="274.30" width="3.90" height="1.35" fill="#e8609a"/>
<rect x="104.40" y="275.60" width="3.90" height="0.85" fill="#3866b0"/>
<rect x="104.40" y="276.40" width="3.90" height="0.85" fill="#8090a0"/>
<rect x="104.40" y="277.20" width="3.90" height="1.05" fill="#8a70b8"/>
<rect x="104.40" y="278.20" width="3.90" height="0.55" fill="#2a8090"/>
<rect x="104.40" y="278.70" width="3.90" height="0.55" fill="#2e8b57"/>
<rect x="104.40" y="279.20" width="3.90" height="0.75" fill="#3866b0"/>
<rect x="104.40" y="279.90" width="3.90" height="1.05" fill="#8090a0"/>
<rect x="104.40" y="280.90" width="3.90" height="1.05" fill="#e8609a"/>
<rect x="104.40" y="281.90" width="3.90" height="1.35" fill="#2e8b57"/>
<rect x="104.40" y="283.20" width="3.90" height="1.05" fill="#8090a0"/>
<rect x="104.40" y="284.20" width="3.90" height="0.55" fill="#e8609a"/>
<rect x="104.40" y="284.70" width="3.90" height="1.05" fill="#2a8090"/>
<rect x="104.40" y="285.70" width="3.90" height="1.65" fill="#3866b0"/>
<rect x="104.40" y="287.30" width="3.90" height="1.35" fill="#3866b0"/>
<rect x="104.40" y="288.60" width="3.90" height="0.85" fill="#3866b0"/>
<rect x="104.40" y="289.40" width="3.90" height="1.65" fill="#2a8090"/>
<rect x="104.40" y="291.00" width="3.90" height="1.35" fill="#2a8090"/>
<rect x="104.40" y="292.30" width="3.90" height="0.75" fill="#8090a0"/>
<rect x="104.40" y="293.00" width="3.90" height="0.55" fill="#e8609a"/>
<rect x="104.40" y="293.50" width="3.90" height="1.05" fill="#8090a0"/>
<rect x="104.40" y="294.50" width="3.90" height="0.55" fill="#3866b0"/>
<rect x="104.40" y="295.00" width="3.90" height="0.85" fill="#3866b0"/>
<rect x="104.40" y="295.80" width="3.90" height="1.35" fill="#2a8090"/>
<rect x="104.40" y="297.10" width="3.90" height="1.35" fill="#8a70b8"/>
<rect x="104.40" y="298.40" width="3.90" height="1.05" fill="#8a70b8"/>
<rect x="104.40" y="299.40" width="3.90" height="0.85" fill="#2a8090"/>
<rect x="104.40" y="300.20" width="3.90" height="0.55" fill="#e8609a"/>
<rect x="104.40" y="300.70" width="3.90" height="0.55" fill="#2a8090"/>
<rect x="104.40" y="301.20" width="3.90" height="1.05" fill="#3866b0"/>
<rect x="104.40" y="302.20" width="3.90" height="0.55" fill="#8a70b8"/>
<rect x="104.40" y="302.70" width="3.90" height="1.05" fill="#3866b0"/>
<rect x="104.40" y="303.70" width="3.90" height="1.35" fill="#3866b0"/>
<rect x="104.40" y="305.00" width="3.90" height="0.85" fill="#8090a0"/>
<rect x="104.40" y="305.80" width="3.90" height="0.85" fill="#2a8090"/>
<rect x="104.40" y="306.60" width="3.90" height="0.85" fill="#e8609a"/>
<rect x="104.40" y="307.40" width="3.90" height="0.55" fill="#3866b0"/>
<rect x="104.40" y="307.90" width="3.90" height="1.65" fill="#8a70b8"/>
<rect x="104.40" y="309.50" width="3.90" height="1.65" fill="#8a70b8"/>
<rect x="104.40" y="311.10" width="3.90" height="0.85" fill="#8a70b8"/>
<rect x="104.40" y="311.90" width="3.90" height="1.35" fill="#2e8b57"/>
<rect x="104.40" y="313.20" width="3.90" height="0.75" fill="#2a8090"/>
<rect x="104.40" y="313.90" width="3.90" height="1.65" fill="#e8609a"/>
<rect x="104.40" y="315.50" width="3.90" height="0.85" fill="#2e8b57"/>
<rect x="104.40" y="316.30" width="3.90" height="1.05" fill="#2a8090"/>
<rect x="104.40" y="317.30" width="3.90" height="0.85" fill="#8a70b8"/>
<rect x="104.40" y="318.10" width="3.90" height="1.05" fill="#2e8b57"/>
<rect x="104.40" y="319.10" width="3.90" height="0.55" fill="#3866b0"/>
<rect x="104.40" y="319.60" width="3.90" height="1.65" fill="#2e8b57"/>
<rect x="104.40" y="321.20" width="3.90" height="1.65" fill="#2a8090"/>
<rect x="104.40" y="322.80" width="3.90" height="1.35" fill="#3866b0"/>
<rect x="104.40" y="324.10" width="3.90" height="1.05" fill="#8090a0"/>
<rect x="104.40" y="325.10" width="3.90" height="0.85" fill="#e8609a"/>
<rect x="104.40" y="325.90" width="3.90" height="1.05" fill="#e8609a"/>
<rect x="104.40" y="326.90" width="3.90" height="1.65" fill="#8090a0"/>
<rect x="104.40" y="328.50" width="3.90" height="0.75" fill="#8090a0"/>
<rect x="104.40" y="329.20" width="3.90" height="1.05" fill="#8a70b8"/>
<rect x="104.40" y="330.20" width="3.90" height="0.85" fill="#3866b0"/>
<rect x="104.40" y="331.00" width="3.90" height="0.55" fill="#8a70b8"/>
<rect x="104.40" y="331.50" width="3.90" height="1.35" fill="#8a70b8"/>
<rect x="104.40" y="332.80" width="3.90" height="0.75" fill="#2e8b57"/>
<rect x="104.40" y="333.50" width="3.90" height="0.55" fill="#2a8090"/>
<rect x="104.40" y="334.00" width="3.90" height="0.75" fill="#2a8090"/>
<rect x="104.40" y="334.70" width="3.90" height="0.75" fill="#8a70b8"/>
<rect x="104.40" y="335.40" width="3.90" height="0.75" fill="#2a8090"/>
<rect x="104.40" y="336.10" width="3.90" height="0.85" fill="#3866b0"/>
<rect x="104.40" y="336.90" width="3.90" height="1.35" fill="#3866b0"/>
<rect x="104.40" y="338.20" width="3.90" height="1.65" fill="#8090a0"/>
<rect x="104.40" y="339.80" width="3.90" height="1.65" fill="#2e8b57"/>
<rect x="104.40" y="341.40" width="3.90" height="1.65" fill="#8a70b8"/>
<rect x="104.40" y="343.00" width="3.90" height="0.85" fill="#2e8b57"/>
<rect x="104.40" y="343.80" width="3.90" height="0.85" fill="#2e8b57"/>
<rect x="104.40" y="344.60" width="3.90" height="1.65" fill="#e8609a"/>
<rect x="104.40" y="346.20" width="3.90" height="1.05" fill="#2a8090"/>
<rect x="104.40" y="347.20" width="3.90" height="1.65" fill="#8a70b8"/>
<rect x="104.40" y="348.80" width="3.90" height="1.05" fill="#8a70b8"/>
<rect x="104.40" y="349.80" width="3.90" height="1.05" fill="#8a70b8"/>
<rect x="104.40" y="350.80" width="3.90" height="1.05" fill="#8a70b8"/>
<rect x="104.40" y="351.80" width="3.90" height="1.35" fill="#8a70b8"/>
<rect x="104.40" y="353.10" width="3.90" height="1.35" fill="#3866b0"/>
<rect x="104.40" y="354.40" width="3.90" height="1.35" fill="#2a8090"/>
<rect x="104.40" y="355.70" width="3.90" height="1.35" fill="#e8609a"/>
<rect x="104.40" y="357.00" width="3.90" height="1.05" fill="#2a8090"/>
<rect x="104.40" y="358.00" width="3.90" height="0.85" fill="#2a8090"/>
<rect x="104.40" y="358.80" width="3.90" height="0.55" fill="#3866b0"/>
<rect x="104.40" y="359.30" width="3.90" height="0.85" fill="#8090a0"/>
<rect x="104.40" y="360.10" width="3.90" height="1.65" fill="#8a70b8"/>
<rect x="104.40" y="361.70" width="3.90" height="0.75" fill="#e8609a"/>
<rect x="104.40" y="362.40" width="3.90" height="1.05" fill="#3866b0"/>
<rect x="104.40" y="363.40" width="3.90" height="0.55" fill="#3866b0"/>
<rect x="104.40" y="363.90" width="3.90" height="1.05" fill="#3866b0"/>
<rect x="104.40" y="364.90" width="3.90" height="0.75" fill="#8a70b8"/>
<rect x="104.40" y="365.60" width="3.90" height="1.05" fill="#3866b0"/>
<rect x="104.40" y="366.60" width="3.90" height="0.85" fill="#2e8b57"/>
<rect x="104.40" y="367.40" width="3.90" height="0.85" fill="#3866b0"/>
<rect x="104.40" y="368.20" width="3.90" height="0.75" fill="#3866b0"/>
<rect x="104.40" y="368.90" width="3.90" height="0.85" fill="#8a70b8"/>
<rect x="104.40" y="369.70" width="3.90" height="0.55" fill="#8a70b8"/>
<rect x="104.40" y="370.20" width="3.90" height="1.05" fill="#8a70b8"/>
<rect x="104.40" y="371.20" width="3.90" height="1.65" fill="#8a70b8"/>
<rect x="104.40" y="372.80" width="3.90" height="1.05" fill="#2a8090"/>
<rect x="104.40" y="373.80" width="3.90" height="0.65" fill="#8090a0"/>
<rect x="109.60" y="208.00" width="4.00" height="166.40" fill="#90e090"/>
<rect x="109.60" y="229.68" width="4.00" height="1.00" fill="#e8b8a0"/>
<rect x="109.60" y="241.33" width="4.00" height="1.00" fill="#f4a090"/>
<rect x="109.60" y="258.86" width="4.00" height="1.00" fill="#f4a090"/>
<rect x="109.60" y="280.43" width="4.00" height="1.20" fill="#c8d8a0"/>
<rect x="109.60" y="302.10" width="4.00" height="1.00" fill="#c8d8a0"/>
<rect x="109.60" y="309.54" width="4.00" height="0.80" fill="#c8d8a0"/>
<rect x="109.60" y="328.34" width="4.00" height="1.00" fill="#c8d8a0"/>
<rect x="109.60" y="335.40" width="4.00" height="0.80" fill="#f4a090"/>
<rect x="109.60" y="352.07" width="4.00" height="1.20" fill="#c8d8a0"/>
<rect x="109.60" y="359.07" width="4.00" height="0.80" fill="#c8d8a0"/>
<rect x="109.60" y="374.38" width="4.00" height="0.02" fill="#c8d8a0"/>
<line x1="116.40" y1="208.00" x2="116.40" y2="374.40" stroke="#333a40" stroke-width="0.65" stroke-dasharray="2.2,0.5"/>
<text x="121.10" y="211.20" font-size="4.3" text-anchor="start" fill="#000" stroke="#000" stroke-width="0.1" font-weight="bold" textLength="9.04" lengthAdjust="spacingAndGlyphs">Niche</text>
<rect x="120.40" y="213.10" width="3.90" height="3.80" fill="#f06aa0"/>
<text x="125.50" y="216.40" font-size="4.2" text-anchor="start" fill="#111" stroke="#111" stroke-width="0.03" textLength="9.89" lengthAdjust="spacingAndGlyphs">Human</text>
<rect x="120.40" y="218.30" width="3.90" height="3.80" fill="#1e8040"/>
<text x="125.50" y="221.60" font-size="4.2" text-anchor="start" fill="#111" stroke="#111" stroke-width="0.03" textLength="10.08" lengthAdjust="spacingAndGlyphs">Animal</text>
<rect x="120.40" y="223.30" width="3.90" height="3.80" fill="#2f6db5"/>
<text x="125.50" y="226.60" font-size="4.2" text-anchor="start" fill="#111" stroke="#111" stroke-width="0.03" textLength="17.54" lengthAdjust="spacingAndGlyphs">Environment</text>
<text x="121.10" y="231.60" font-size="4.3" text-anchor="start" fill="#000" stroke="#000" stroke-width="0.1" font-weight="bold" textLength="7.74" lengthAdjust="spacingAndGlyphs">Type</text>
<rect x="120.40" y="234.30" width="3.90" height="3.80" fill="#90e090"/>
<text x="125.50" y="237.60" font-size="4.2" text-anchor="start" fill="#111" stroke="#111" stroke-width="0.03" textLength="10.83" lengthAdjust="spacingAndGlyphs">Plasmid</text>
<rect x="120.40" y="239.30" width="3.90" height="3.80" fill="#f49a9a"/>
<text x="125.50" y="242.60" font-size="4.2" text-anchor="start" fill="#111" stroke="#111" stroke-width="0.03" textLength="18.11" lengthAdjust="spacingAndGlyphs">Chromosome</text>
<text x="121.10" y="248.40" font-size="4.3" text-anchor="start" fill="#000" stroke="#000" stroke-width="0.1" font-weight="bold" textLength="16.02" lengthAdjust="spacingAndGlyphs">Mob_type</text>
<rect x="121.30" y="250.10" width="1.60" height="1.60" fill="#70c030" rx="0.5"/>
<text x="124.30" y="252.30" font-size="4.2" text-anchor="start" fill="#111" stroke="#111" stroke-width="0.03" textLength="16.8" lengthAdjust="spacingAndGlyphs">mob_unconj</text>
<rect x="121.30" y="254.20" width="1.60" height="1.60" fill="#f08020" rx="0.5"/>
<text x="124.30" y="256.40" font-size="4.2" text-anchor="start" fill="#111" stroke="#111" stroke-width="0.03" textLength="9.33" lengthAdjust="spacingAndGlyphs">unmob</text>
<rect x="121.30" y="258.50" width="1.60" height="1.60" fill="#60b8f0" rx="0.5"/>
<text x="124.30" y="260.70" font-size="4.2" text-anchor="start" fill="#111" stroke="#111" stroke-width="0.03" textLength="6.53" lengthAdjust="spacingAndGlyphs">Conj</text>
<text x="121.10" y="265.10" font-size="4.3" text-anchor="start" fill="#000" stroke="#000" stroke-width="0.1" font-weight="bold" textLength="13.25" lengthAdjust="spacingAndGlyphs">Gene ID</text>
<path d="M117.80,270.10 H120.60 M123.00,268.20 H120.60 V272.00 H123.00" stroke="#5040c0" stroke-width="1.0" fill="none"/>
<text x="124.00" y="271.50" font-size="4.2" text-anchor="start" fill="#111" stroke="#111" stroke-width="0.03" textLength="8.03" lengthAdjust="spacingAndGlyphs">qnrS2</text>
<path d="M117.80,275.26 H120.60 M123.00,273.36 H120.60 V277.16 H123.00" stroke="#fcd0b0" stroke-width="1.0" fill="none"/>
<text x="124.00" y="276.66" font-size="4.2" text-anchor="start" fill="#111" stroke="#111" stroke-width="0.03" textLength="8.4" lengthAdjust="spacingAndGlyphs">qnrB2</text>
<path d="M117.80,280.42 H120.60 M123.00,278.52 H120.60 V282.32 H123.00" stroke="#f8b080" stroke-width="1.0" fill="none"/>
<text x="124.00" y="281.82" font-size="4.2" text-anchor="start" fill="#111" stroke="#111" stroke-width="0.03" textLength="8.4" lengthAdjust="spacingAndGlyphs">qnrB6</text>
<path d="M117.80,285.58 H120.60 M123.00,283.68 H120.60 V287.48 H123.00" stroke="#d020a0" stroke-width="1.0" fill="none"/>
<text x="124.00" y="286.98" font-size="4.2" text-anchor="start" fill="#111" stroke="#111" stroke-width="0.03" textLength="8.4" lengthAdjust="spacingAndGlyphs">qnrB4</text>
<path d="M117.80,290.74 H120.60 M123.00,288.84 H120.60 V292.64 H123.00" stroke="#e090e0" stroke-width="1.0" fill="none"/>
<text x="124.00" y="292.14" font-size="4.2" text-anchor="start" fill="#111" stroke="#111" stroke-width="0.03" textLength="10.08" lengthAdjust="spacingAndGlyphs">qnrB19</text>
<path d="M117.80,295.90 H120.60 M123.00,294.00 H120.60 V297.80 H123.00" stroke="#90c8f0" stroke-width="1.0" fill="none"/>
<text x="124.00" y="297.30" font-size="4.2" text-anchor="start" fill="#111" stroke="#111" stroke-width="0.03" textLength="8.03" lengthAdjust="spacingAndGlyphs">qnrS4</text>
<path d="M117.80,301.06 H120.60 M123.00,299.16 H120.60 V302.96 H123.00" stroke="#40a040" stroke-width="1.0" fill="none"/>
<text x="124.00" y="302.46" font-size="4.2" text-anchor="start" fill="#111" stroke="#111" stroke-width="0.03" textLength="16.64" lengthAdjust="spacingAndGlyphs">aac(6')-Ib-cr</text>
<path d="M117.80,306.22 H120.60 M123.00,304.32 H120.60 V308.12 H123.00" stroke="#e02020" stroke-width="1.0" fill="none"/>
<text x="124.00" y="307.62" font-size="4.2" text-anchor="start" fill="#111" stroke="#111" stroke-width="0.03" textLength="8.03" lengthAdjust="spacingAndGlyphs">qnrS1</text>
<path d="M117.80,311.38 H120.60 M123.00,309.48 H120.60 V313.28 H123.00" stroke="#c04010" stroke-width="1.0" fill="none"/>
<text x="124.00" y="312.78" font-size="4.2" text-anchor="start" fill="#111" stroke="#111" stroke-width="0.03" textLength="8.03" lengthAdjust="spacingAndGlyphs">qnrS3</text>
<path d="M117.80,316.54 H120.60 M123.00,314.64 H120.60 V318.44 H123.00" stroke="#9080e0" stroke-width="1.0" fill="none"/>
<text x="124.00" y="317.94" font-size="4.2" text-anchor="start" fill="#111" stroke="#111" stroke-width="0.03" textLength="8.59" lengthAdjust="spacingAndGlyphs">qnrD1</text>
<path d="M117.80,321.70 H120.60 M123.00,319.80 H120.60 V323.60 H123.00" stroke="#e01890" stroke-width="1.0" fill="none"/>
<text x="124.00" y="323.10" font-size="4.2" text-anchor="start" fill="#111" stroke="#111" stroke-width="0.03" textLength="10.08" lengthAdjust="spacingAndGlyphs">qnrB20</text>
<path d="M117.80,326.86 H120.60 M123.00,324.96 H120.60 V328.76 H123.00" stroke="#30b0d0" stroke-width="1.0" fill="none"/>
<text x="124.00" y="328.26" font-size="4.2" text-anchor="start" fill="#111" stroke="#111" stroke-width="0.03" textLength="7.47" lengthAdjust="spacingAndGlyphs">oqxA</text>
<path d="M117.80,332.02 H120.60 M123.00,330.12 H120.60 V333.92 H123.00" stroke="#f07070" stroke-width="1.0" fill="none"/>
<text x="124.00" y="333.42" font-size="4.2" text-anchor="start" fill="#111" stroke="#111" stroke-width="0.03" textLength="8.4" lengthAdjust="spacingAndGlyphs">qnrB1</text>
<line x1="377.80" y1="13.00" x2="376.90" y2="147.10" stroke="#c8c8c8" stroke-width="0.36"/>
<line x1="377.80" y1="13.00" x2="368.50" y2="161.40" stroke="#c8c8c8" stroke-width="0.36"/>
<line x1="437.20" y1="41.10" x2="344.10" y2="138.30" stroke="#c8c8c8" stroke-width="0.36"/>
<line x1="422.40" y1="45.90" x2="376.00" y2="152.60" stroke="#c8c8c8" stroke-width="0.36"/>
<line x1="411.70" y1="37.60" x2="372.80" y2="158.70" stroke="#c8c8c8" stroke-width="0.36"/>
<line x1="409.80" y1="31.10" x2="350.90" y2="130.20" stroke="#c8c8c8" stroke-width="0.36"/>
<line x1="411.10" y1="24.10" x2="340.70" y2="144.40" stroke="#c8c8c8" stroke-width="0.36"/>
<line x1="254.30" y1="46.50" x2="376.90" y2="147.10" stroke="#c8c8c8" stroke-width="0.36"/>
<line x1="250.90" y1="55.20" x2="362.80" y2="129.20" stroke="#c8c8c8" stroke-width="0.36"/>
<line x1="263.40" y1="66.00" x2="376.90" y2="147.10" stroke="#c8c8c8" stroke-width="0.36"/>
<line x1="271.50" y1="63.50" x2="351.50" y2="163.70" stroke="#c8c8c8" stroke-width="0.36"/>
<line x1="215.10" y1="76.10" x2="351.50" y2="163.70" stroke="#c8c8c8" stroke-width="0.36"/>
<line x1="229.40" y1="101.00" x2="342.40" y2="156.00" stroke="#c8c8c8" stroke-width="0.36"/>
<line x1="179.70" y1="120.00" x2="344.10" y2="138.30" stroke="#c8c8c8" stroke-width="0.36"/>
<line x1="175.40" y1="157.00" x2="346.10" y2="160.40" stroke="#c8c8c8" stroke-width="0.36"/>
<line x1="186.20" y1="170.80" x2="351.50" y2="163.70" stroke="#c8c8c8" stroke-width="0.36"/>
<line x1="323.50" y1="35.20" x2="376.90" y2="147.10" stroke="#4f84bc" stroke-width="0.36"/>
<line x1="331.90" y1="34.80" x2="346.10" y2="160.40" stroke="#4f84bc" stroke-width="0.36"/>
<line x1="323.90" y1="60.20" x2="376.00" y2="152.60" stroke="#4f84bc" stroke-width="0.36"/>
<line x1="384.40" y1="18.00" x2="376.90" y2="147.10" stroke="#4f84bc" stroke-width="0.36"/>
<line x1="378.30" y1="38.30" x2="376.00" y2="152.60" stroke="#4f84bc" stroke-width="0.36"/>
<line x1="369.80" y1="38.50" x2="372.80" y2="158.70" stroke="#4f84bc" stroke-width="0.36"/>
<line x1="415.70" y1="18.50" x2="350.90" y2="130.20" stroke="#4f84bc" stroke-width="0.36"/>
<line x1="421.90" y1="15.20" x2="362.80" y2="129.20" stroke="#4f84bc" stroke-width="0.36"/>
<line x1="437.20" y1="41.10" x2="346.10" y2="133.60" stroke="#4f84bc" stroke-width="0.36"/>
<line x1="409.80" y1="31.10" x2="350.90" y2="130.20" stroke="#4f84bc" stroke-width="0.36"/>
<line x1="273.60" y1="47.40" x2="376.00" y2="152.60" stroke="#4f84bc" stroke-width="0.36"/>
<line x1="254.30" y1="63.50" x2="372.80" y2="158.70" stroke="#4f84bc" stroke-width="0.36"/>
<line x1="234.90" y1="81.30" x2="346.10" y2="133.60" stroke="#4f84bc" stroke-width="0.36"/>
<line x1="209.40" y1="81.30" x2="350.90" y2="130.20" stroke="#4f84bc" stroke-width="0.36"/>
<line x1="323.50" y1="35.20" x2="376.00" y2="152.60" stroke="#ee4a4a" stroke-width="0.36"/>
<line x1="338.30" y1="39.40" x2="362.80" y2="129.20" stroke="#ee4a4a" stroke-width="0.36"/>
<line x1="341.50" y1="47.40" x2="376.90" y2="147.10" stroke="#ee4a4a" stroke-width="0.36"/>
<line x1="338.90" y1="55.20" x2="340.70" y2="144.40" stroke="#ee4a4a" stroke-width="0.36"/>
<line x1="332.40" y1="60.20" x2="376.90" y2="147.10" stroke="#ee4a4a" stroke-width="0.36"/>
<line x1="332.40" y1="60.20" x2="362.80" y2="129.20" stroke="#ee4a4a" stroke-width="0.36"/>
<line x1="317.40" y1="55.60" x2="368.50" y2="131.50" stroke="#ee4a4a" stroke-width="0.36"/>
<line x1="314.60" y1="47.80" x2="346.10" y2="160.40" stroke="#ee4a4a" stroke-width="0.36"/>
<line x1="317.00" y1="39.80" x2="346.10" y2="160.40" stroke="#ee4a4a" stroke-width="0.36"/>
<line x1="363.00" y1="18.10" x2="372.80" y2="158.70" stroke="#ee4a4a" stroke-width="0.36"/>
<line x1="363.00" y1="18.10" x2="373.00" y2="135.60" stroke="#ee4a4a" stroke-width="0.36"/>
<line x1="369.40" y1="13.30" x2="376.00" y2="152.60" stroke="#ee4a4a" stroke-width="0.36"/>
<line x1="369.40" y1="13.30" x2="375.70" y2="140.60" stroke="#ee4a4a" stroke-width="0.36"/>
<line x1="387.20" y1="25.60" x2="362.80" y2="129.20" stroke="#ee4a4a" stroke-width="0.36"/>
<line x1="387.20" y1="25.60" x2="344.10" y2="138.30" stroke="#ee4a4a" stroke-width="0.36"/>
<line x1="384.80" y1="33.30" x2="372.80" y2="158.70" stroke="#ee4a4a" stroke-width="0.36"/>
<line x1="369.80" y1="38.50" x2="368.50" y2="161.40" stroke="#ee4a4a" stroke-width="0.36"/>
<line x1="363.30" y1="33.70" x2="362.80" y2="129.20" stroke="#ee4a4a" stroke-width="0.36"/>
<line x1="363.30" y1="33.70" x2="346.10" y2="133.60" stroke="#ee4a4a" stroke-width="0.36"/>
<line x1="360.20" y1="25.90" x2="344.10" y2="138.30" stroke="#ee4a4a" stroke-width="0.36"/>
<line x1="360.20" y1="25.90" x2="350.90" y2="130.20" stroke="#ee4a4a" stroke-width="0.36"/>
<line x1="415.70" y1="18.50" x2="376.90" y2="147.10" stroke="#ee4a4a" stroke-width="0.36"/>
<line x1="428.90" y1="15.20" x2="342.40" y2="156.00" stroke="#ee4a4a" stroke-width="0.36"/>
<line x1="428.90" y1="15.20" x2="376.00" y2="152.60" stroke="#ee4a4a" stroke-width="0.36"/>
<line x1="435.20" y1="18.10" x2="342.40" y2="156.00" stroke="#ee4a4a" stroke-width="0.36"/>
<line x1="439.40" y1="23.70" x2="376.00" y2="152.60" stroke="#ee4a4a" stroke-width="0.36"/>
<line x1="439.40" y1="23.70" x2="362.80" y2="129.20" stroke="#ee4a4a" stroke-width="0.36"/>
<line x1="440.70" y1="31.10" x2="368.50" y2="161.40" stroke="#ee4a4a" stroke-width="0.36"/>
<line x1="440.70" y1="31.10" x2="368.50" y2="161.40" stroke="#ee4a4a" stroke-width="0.36"/>
<line x1="429.80" y1="45.00" x2="376.90" y2="147.10" stroke="#ee4a4a" stroke-width="0.36"/>
<line x1="429.80" y1="45.00" x2="373.00" y2="135.60" stroke="#ee4a4a" stroke-width="0.36"/>
<line x1="415.90" y1="43.10" x2="372.80" y2="158.70" stroke="#ee4a4a" stroke-width="0.36"/>
<line x1="411.70" y1="37.60" x2="340.70" y2="150.50" stroke="#ee4a4a" stroke-width="0.36"/>
<line x1="411.10" y1="24.10" x2="340.70" y2="150.50" stroke="#ee4a4a" stroke-width="0.36"/>
<line x1="263.80" y1="44.40" x2="342.40" y2="156.00" stroke="#ee4a4a" stroke-width="0.36"/>
<line x1="222.00" y1="74.30" x2="346.10" y2="133.60" stroke="#ee4a4a" stroke-width="0.36"/>
<line x1="229.40" y1="75.40" x2="340.70" y2="144.40" stroke="#ee4a4a" stroke-width="0.36"/>
<line x1="237.10" y1="88.00" x2="376.00" y2="152.60" stroke="#ee4a4a" stroke-width="0.36"/>
<line x1="235.40" y1="95.80" x2="351.50" y2="163.70" stroke="#ee4a4a" stroke-width="0.36"/>
<line x1="222.50" y1="103.20" x2="372.80" y2="158.70" stroke="#ee4a4a" stroke-width="0.36"/>
<line x1="215.70" y1="101.00" x2="368.50" y2="161.40" stroke="#ee4a4a" stroke-width="0.36"/>
<line x1="209.70" y1="96.10" x2="351.50" y2="163.70" stroke="#ee4a4a" stroke-width="0.36"/>
<line x1="207.70" y1="89.00" x2="350.90" y2="130.20" stroke="#ee4a4a" stroke-width="0.36"/>
<line x1="186.60" y1="113.50" x2="368.50" y2="161.40" stroke="#ee4a4a" stroke-width="0.36"/>
<line x1="196.10" y1="115.50" x2="344.10" y2="138.30" stroke="#ee4a4a" stroke-width="0.36"/>
<line x1="200.80" y1="124.70" x2="363.30" y2="164.80" stroke="#ee4a4a" stroke-width="0.36"/>
<line x1="179.70" y1="129.30" x2="351.50" y2="163.70" stroke="#ee4a4a" stroke-width="0.36"/>
<line x1="197.00" y1="132.80" x2="372.80" y2="158.70" stroke="#ee4a4a" stroke-width="0.36"/>
<line x1="186.90" y1="135.90" x2="344.10" y2="138.30" stroke="#ee4a4a" stroke-width="0.36"/>
<line x1="186.10" y1="153.20" x2="351.50" y2="163.70" stroke="#ee4a4a" stroke-width="0.36"/>
<line x1="193.20" y1="162.20" x2="351.50" y2="163.70" stroke="#ee4a4a" stroke-width="0.36"/>
<line x1="175.40" y1="168.40" x2="344.10" y2="138.30" stroke="#ee4a4a" stroke-width="0.36"/>
<text x="188.40" y="8.20" font-size="10" text-anchor="start" fill="#000" font-weight="bold" textLength="8.9" lengthAdjust="spacingAndGlyphs">b)</text>
<text x="211.90" y="57.70" font-size="10" text-anchor="start" fill="#62258f" font-weight="bold" textLength="21.0" lengthAdjust="spacingAndGlyphs">Locus</text>
<rect x="312.40" y="4.20" width="134.10" height="67.10" rx="12" ry="12" fill="none" stroke="#a0a0a0" stroke-width="0.55"/>
<rect x="244.10" y="31.10" width="39.10" height="44.40" rx="7" ry="7" fill="none" stroke="#a0a0a0" stroke-width="0.55"/>
<rect x="168.70" y="70.20" width="72.50" height="108.90" rx="10" ry="10" fill="none" stroke="#a0a0a0" stroke-width="0.55"/>
<text x="318.00" y="14.80" font-size="9.8" text-anchor="start" fill="#62258f" font-weight="bold" textLength="20.9" lengthAdjust="spacingAndGlyphs">Niche</text>
<circle cx="323.50" cy="35.20" r="1.3" fill="#2a9a4a"/>
<circle cx="331.90" cy="34.80" r="1.3" fill="#2a9a4a"/>
<circle cx="338.30" cy="39.40" r="1.3" fill="#2a9a4a"/>
<circle cx="341.50" cy="47.40" r="1.3" fill="#2a9a4a"/>
<circle cx="338.90" cy="55.20" r="1.3" fill="#2a9a4a"/>
<circle cx="332.40" cy="60.20" r="1.3" fill="#2a9a4a"/>
<circle cx="323.90" cy="60.20" r="1.6" fill="#c8ecd0" stroke="#2a9a4a" stroke-width="0.5"/>
<circle cx="317.40" cy="55.60" r="1.3" fill="#2a9a4a"/>
<circle cx="314.60" cy="47.80" r="1.3" fill="#2a9a4a"/>
<circle cx="317.00" cy="39.80" r="1.3" fill="#2a9a4a"/>
<circle cx="363.00" cy="18.10" r="1.3" fill="#2f70c0"/>
<circle cx="369.40" cy="13.30" r="1.3" fill="#2f70c0"/>
<circle cx="377.80" cy="13.00" r="1.3" fill="#2f70c0"/>
<circle cx="384.40" cy="18.00" r="1.25" fill="#c8dcf0" stroke="#2f70c0" stroke-width="0.5"/>
<circle cx="387.20" cy="25.60" r="1.25" fill="#c8dcf0" stroke="#2f70c0" stroke-width="0.5"/>
<circle cx="384.80" cy="33.30" r="1.25" fill="#c8dcf0" stroke="#2f70c0" stroke-width="0.5"/>
<circle cx="378.30" cy="38.30" r="1.3" fill="#2f70c0"/>
<circle cx="369.80" cy="38.50" r="1.3" fill="#2f70c0"/>
<circle cx="363.30" cy="33.70" r="1.7" fill="#c8dcf0" stroke="#2f70c0" stroke-width="0.5"/>
<circle cx="360.20" cy="25.90" r="1.25" fill="#c8dcf0" stroke="#2f70c0" stroke-width="0.5"/>
<circle cx="415.70" cy="18.50" r="1.3" fill="#f06aa0"/>
<circle cx="421.90" cy="15.20" r="1.3" fill="#f06aa0"/>
<circle cx="428.90" cy="15.20" r="1.3" fill="#f06aa0"/>
<circle cx="435.20" cy="18.10" r="1.25" fill="#fbd0e0" stroke="#f06aa0" stroke-width="0.5"/>
<circle cx="439.40" cy="23.70" r="1.25" fill="#fbd0e0" stroke="#f06aa0" stroke-width="0.5"/>
<circle cx="440.70" cy="31.10" r="1.25" fill="#fbd0e0" stroke="#f06aa0" stroke-width="0.5"/>
<circle cx="437.20" cy="41.10" r="1.25" fill="#fbd0e0" stroke="#f06aa0" stroke-width="0.5"/>
<circle cx="429.80" cy="45.00" r="1.3" fill="#f06aa0"/>
<circle cx="422.40" cy="45.90" r="1.3" fill="#f06aa0"/>
<circle cx="415.90" cy="43.10" r="1.3" fill="#f06aa0"/>
<circle cx="411.70" cy="37.60" r="1.25" fill="#fbd0e0" stroke="#f06aa0" stroke-width="0.5"/>
<circle cx="409.80" cy="31.10" r="1.8" fill="#fbd0e0" stroke="#f06aa0" stroke-width="0.5"/>
<circle cx="411.10" cy="24.10" r="1.25" fill="#fbd0e0" stroke="#f06aa0" stroke-width="0.5"/>
<circle cx="254.30" cy="46.50" r="1.0" fill="#fff" stroke="#707070" stroke-width="0.6"/>
<circle cx="263.80" cy="44.40" r="1.0" fill="#fff" stroke="#707070" stroke-width="0.6"/>
<circle cx="273.60" cy="47.40" r="1.0" fill="#fff" stroke="#707070" stroke-width="0.6"/>
<circle cx="250.90" cy="55.20" r="1.0" fill="#fff" stroke="#707070" stroke-width="0.6"/>
<circle cx="254.30" cy="63.50" r="1.0" fill="#fff" stroke="#707070" stroke-width="0.6"/>
<circle cx="263.40" cy="66.00" r="1.0" fill="#fff" stroke="#707070" stroke-width="0.6"/>
<circle cx="271.50" cy="63.50" r="1.0" fill="#fff" stroke="#707070" stroke-width="0.6"/>
<circle cx="263.80" cy="44.40" r="1.0" fill="#555"/>
<circle cx="250.90" cy="55.20" r="1.0" fill="#555"/>
<rect x="213.90" y="74.90" width="2.4" height="2.4" fill="#cfe4f6" stroke="#5aa0d8" stroke-width="0.6"/>
<rect x="220.80" y="73.10" width="2.4" height="2.4" fill="#5aa0d8"/>
<rect x="228.20" y="74.20" width="2.4" height="2.4" fill="#cfe4f6" stroke="#5aa0d8" stroke-width="0.6"/>
<rect x="233.70" y="80.10" width="2.4" height="2.4" fill="#cfe4f6" stroke="#5aa0d8" stroke-width="0.6"/>
<rect x="235.90" y="86.80" width="2.4" height="2.4" fill="#cfe4f6" stroke="#5aa0d8" stroke-width="0.6"/>
<rect x="233.60" y="94.00" width="3.6" height="3.6" fill="#cfe4f6" stroke="#5aa0d8" stroke-width="0.7"/>
<rect x="228.20" y="99.80" width="2.4" height="2.4" fill="#cfe4f6" stroke="#5aa0d8" stroke-width="0.6"/>
<rect x="221.30" y="102.00" width="2.4" height="2.4" fill="#5aa0d8"/>
<rect x="214.50" y="99.80" width="2.4" height="2.4" fill="#5aa0d8"/>
<rect x="208.50" y="94.90" width="2.4" height="2.4" fill="#5aa0d8"/>
<rect x="206.50" y="87.80" width="2.4" height="2.4" fill="#cfe4f6" stroke="#5aa0d8" stroke-width="0.6"/>
<rect x="208.20" y="80.10" width="2.4" height="2.4" fill="#5aa0d8"/>
<rect x="185.45" y="112.35" width="2.3" height="2.3" fill="#f08a20"/>
<rect x="194.95" y="114.35" width="2.3" height="2.3" fill="#f08a20"/>
<rect x="178.55" y="118.85" width="2.3" height="2.3" fill="#f08a20"/>
<rect x="199.65" y="123.55" width="2.3" height="2.3" fill="#f08a20"/>
<rect x="178.20" y="127.80" width="3.0" height="3.0" fill="#fbd0a0" stroke="#f08a20" stroke-width="0.6"/>
<rect x="195.85" y="131.65" width="2.3" height="2.3" fill="#f08a20"/>
<rect x="185.40" y="134.40" width="3.0" height="3.0" fill="#fbd0a0" stroke="#f08a20" stroke-width="0.6"/>
<rect x="184.95" y="152.05" width="2.3" height="2.3" fill="#60b030"/>
<rect x="174.20" y="155.80" width="2.4" height="2.4" fill="#d8f0c0" stroke="#60b030" stroke-width="0.6"/>
<rect x="192.00" y="161.00" width="2.4" height="2.4" fill="#d8f0c0" stroke="#60b030" stroke-width="0.6"/>
<rect x="174.20" y="167.20" width="2.4" height="2.4" fill="#d8f0c0" stroke="#60b030" stroke-width="0.6"/>
<rect x="185.00" y="169.60" width="2.4" height="2.4" fill="#d8f0c0" stroke="#60b030" stroke-width="0.6"/>
<text x="328.70" y="49.00" font-size="4.4" text-anchor="middle" fill="#000" stroke="#000" stroke-width="0.15" font-weight="bold" textLength="13.6" lengthAdjust="spacingAndGlyphs">Animal</text>
<text x="374.20" y="29.50" font-size="4.4" text-anchor="middle" fill="#000" stroke="#000" stroke-width="0.15" font-weight="bold" textLength="24" lengthAdjust="spacingAndGlyphs">Environment</text>
<text x="425.20" y="32.30" font-size="4.4" text-anchor="middle" fill="#000" stroke="#000" stroke-width="0.15" font-weight="bold" textLength="14.8" lengthAdjust="spacingAndGlyphs">Human</text>
<text x="264.20" y="39.10" font-size="4.4" text-anchor="middle" fill="#000" stroke="#000" stroke-width="0.15" font-weight="bold" textLength="32" lengthAdjust="spacingAndGlyphs">On Chromosomes</text>
<text x="266.80" y="59.20" font-size="4.4" text-anchor="middle" fill="#000" stroke="#000" stroke-width="0.15" font-weight="bold" textLength="25" lengthAdjust="spacingAndGlyphs">Chromosome</text>
<text x="174.90" y="77.10" font-size="4.1" text-anchor="start" fill="#000" stroke="#000" stroke-width="0.15" font-weight="bold">On</text>
<text x="174.90" y="82.40" font-size="4.1" text-anchor="start" fill="#000" stroke="#000" stroke-width="0.15" font-weight="bold" textLength="16" lengthAdjust="spacingAndGlyphs">Plasmids</text>
<text x="224.00" y="89.50" font-size="4.4" text-anchor="middle" fill="#000" stroke="#000" stroke-width="0.15" font-weight="bold" textLength="10" lengthAdjust="spacingAndGlyphs">Conj</text>
<text x="191.20" y="126.20" font-size="4.4" text-anchor="middle" fill="#000" stroke="#000" stroke-width="0.15" font-weight="bold" textLength="15" lengthAdjust="spacingAndGlyphs">Unmob</text>
<text x="178.50" y="160.90" font-size="4.4" text-anchor="start" fill="#000" stroke="#000" stroke-width="0.15" font-weight="bold" textLength="9" lengthAdjust="spacingAndGlyphs">Mob_</text>
<text x="178.20" y="166.80" font-size="4.4" text-anchor="start" fill="#000" stroke="#000" stroke-width="0.15" font-weight="bold" textLength="13.5" lengthAdjust="spacingAndGlyphs">unconj</text>
<path d="M350.90,128.94 L352.30,131.46 L349.50,131.46 Z" fill="#c0c020"/>
<path d="M362.80,127.94 L364.20,130.46 L361.40,130.46 Z" fill="#40b0c0"/>
<path d="M368.50,130.24 L369.90,132.76 L367.10,132.76 Z" fill="#60b030"/>
<path d="M373.00,134.34 L374.40,136.86 L371.60,136.86 Z" fill="#808020"/>
<path d="M375.70,139.34 L377.10,141.86 L374.30,141.86 Z" fill="#e0e060"/>
<path d="M376.90,145.84 L378.30,148.36 L375.50,148.36 Z" fill="#c08020"/>
<path d="M376.00,151.34 L377.40,153.86 L374.60,153.86 Z" fill="#606020"/>
<path d="M372.80,157.44 L374.20,159.96 L371.40,159.96 Z" fill="#70802a"/>
<path d="M368.50,160.14 L369.90,162.66 L367.10,162.66 Z" fill="#e02020"/>
<path d="M363.30,163.54 L364.70,166.06 L361.90,166.06 Z" fill="#80c0e0"/>
<path d="M357.00,164.24 L358.40,166.76 L355.60,166.76 Z" fill="#c0f0c0"/>
<path d="M351.50,162.44 L352.90,164.96 L350.10,164.96 Z" fill="#e04040"/>
<path d="M346.10,159.14 L347.50,161.66 L344.70,161.66 Z" fill="#a0a0f0"/>
<path d="M342.40,154.74 L343.80,157.26 L341.00,157.26 Z" fill="#f0a030"/>
<path d="M340.70,149.24 L342.10,151.76 L339.30,151.76 Z" fill="#f4a0c8"/>
<path d="M340.70,143.14 L342.10,145.66 L339.30,145.66 Z" fill="#e08020"/>
<path d="M344.10,137.04 L345.50,139.56 L342.70,139.56 Z" fill="#f8f0e0"/>
<path d="M346.10,132.34 L347.50,134.86 L344.70,134.86 Z" fill="#8080d0"/>
<path d="M368.50,159.60 L370.50,163.20 L366.50,163.20 Z" fill="#e02020"/>
<text x="352.90" y="131.20" font-size="2.9" text-anchor="start" fill="#1a3a90" stroke="#1a3a90" stroke-width="0.12" textLength="10.5" lengthAdjust="spacingAndGlyphs">blaCTX-M-24</text>
<text x="364.80" y="130.20" font-size="2.6" text-anchor="start" fill="#202020" stroke="#202020" stroke-width="0.07" textLength="9" lengthAdjust="spacingAndGlyphs">blaCTX-M-123</text>
<text x="370.50" y="132.50" font-size="2.6" text-anchor="start" fill="#202020" stroke="#202020" stroke-width="0.07" textLength="9" lengthAdjust="spacingAndGlyphs">blaCTX-M-3</text>
<text x="375.00" y="136.60" font-size="2.6" text-anchor="start" fill="#202020" stroke="#202020" stroke-width="0.07" textLength="9" lengthAdjust="spacingAndGlyphs">blaCTX-M-19</text>
<text x="377.70" y="141.60" font-size="2.6" text-anchor="start" fill="#202020" stroke="#202020" stroke-width="0.07" textLength="9" lengthAdjust="spacingAndGlyphs">blaCTX-M-130</text>
<text x="378.90" y="148.10" font-size="2.9" text-anchor="start" fill="#d81818" stroke="#d81818" stroke-width="0.12" textLength="10.5" lengthAdjust="spacingAndGlyphs">blaCTX-M-15</text>
<text x="378.00" y="153.60" font-size="2.9" text-anchor="start" fill="#d81818" stroke="#d81818" stroke-width="0.12" textLength="10.5" lengthAdjust="spacingAndGlyphs">blaCTX-M-64</text>
<text x="374.80" y="159.70" font-size="2.9" text-anchor="start" fill="#d81818" stroke="#d81818" stroke-width="0.12" textLength="10.5" lengthAdjust="spacingAndGlyphs">blaCTX-M-27</text>
<text x="370.50" y="162.40" font-size="2.9" text-anchor="start" fill="#d81818" stroke="#d81818" stroke-width="0.12" textLength="10.5" lengthAdjust="spacingAndGlyphs">blaCTX-M-55</text>
<text x="363.30" y="168.10" font-size="2.5" text-anchor="middle" fill="#202020" stroke="#202020" stroke-width="0.06" textLength="8" lengthAdjust="spacingAndGlyphs">blaCTX-M-65</text>
<text x="357.00" y="168.80" font-size="2.5" text-anchor="middle" fill="#202020" stroke="#202020" stroke-width="0.06" textLength="8" lengthAdjust="spacingAndGlyphs">blaCTX-M-69</text>
<text x="353.50" y="164.70" font-size="2.9" text-anchor="start" fill="#d81818" stroke="#d81818" stroke-width="0.12" textLength="10.5" lengthAdjust="spacingAndGlyphs">blaCTX-M-14</text>
<text x="348.10" y="161.40" font-size="2.6" text-anchor="start" fill="#202020" stroke="#202020" stroke-width="0.07" textLength="9" lengthAdjust="spacingAndGlyphs">blaCTX-M-227</text>
<text x="344.40" y="157.00" font-size="2.6" text-anchor="start" fill="#202020" stroke="#202020" stroke-width="0.07" textLength="9" lengthAdjust="spacingAndGlyphs">blaCTX-M-1</text>
<text x="342.70" y="151.50" font-size="2.6" text-anchor="start" fill="#202020" stroke="#202020" stroke-width="0.07" textLength="9" lengthAdjust="spacingAndGlyphs">blaCTX-M-117</text>
<text x="342.70" y="145.40" font-size="2.6" text-anchor="start" fill="#202020" stroke="#202020" stroke-width="0.07" textLength="9" lengthAdjust="spacingAndGlyphs">blaCTX-M-9</text>
<text x="346.10" y="139.30" font-size="2.6" text-anchor="start" fill="#202020" stroke="#202020" stroke-width="0.07" textLength="9" lengthAdjust="spacingAndGlyphs">blaCTX-M-136</text>
<text x="348.10" y="134.60" font-size="2.9" text-anchor="start" fill="#1a3a90" stroke="#1a3a90" stroke-width="0.12" textLength="10.5" lengthAdjust="spacingAndGlyphs">blaCTX-M-216</text>
<text x="363.45" y="151.00" font-size="8.2" text-anchor="middle" fill="#62258f" font-weight="bold" textLength="15.3" lengthAdjust="spacingAndGlyphs">Gene</text>
<line x1="337.00" y1="205.00" x2="214.30" y2="274.80" stroke="#c8c8c8" stroke-width="0.4"/>
<line x1="390.80" y1="225.70" x2="214.30" y2="274.80" stroke="#c8c8c8" stroke-width="0.4"/>
<line x1="390.80" y1="251.70" x2="190.10" y2="283.70" stroke="#c8c8c8" stroke-width="0.4"/>
<line x1="399.30" y1="238.70" x2="219.30" y2="281.00" stroke="#c8c8c8" stroke-width="0.4"/>
<line x1="383.80" y1="321.40" x2="199.80" y2="274.20" stroke="#c8c8c8" stroke-width="0.4"/>
<line x1="368.10" y1="341.90" x2="219.30" y2="281.00" stroke="#c8c8c8" stroke-width="0.4"/>
<line x1="354.00" y1="351.00" x2="214.30" y2="300.10" stroke="#c8c8c8" stroke-width="0.4"/>
<line x1="331.50" y1="364.30" x2="190.10" y2="283.70" stroke="#c8c8c8" stroke-width="0.4"/>
<line x1="255.10" y1="225.00" x2="193.60" y2="277.90" stroke="#4f84bc" stroke-width="0.4"/>
<line x1="272.40" y1="221.30" x2="199.80" y2="274.20" stroke="#4f84bc" stroke-width="0.4"/>
<line x1="326.20" y1="205.00" x2="193.60" y2="277.90" stroke="#4f84bc" stroke-width="0.4"/>
<line x1="321.00" y1="214.30" x2="190.10" y2="283.70" stroke="#4f84bc" stroke-width="0.4"/>
<line x1="382.70" y1="224.60" x2="207.20" y2="272.70" stroke="#4f84bc" stroke-width="0.4"/>
<line x1="375.60" y1="227.90" x2="193.60" y2="277.90" stroke="#4f84bc" stroke-width="0.4"/>
<line x1="371.10" y1="234.60" x2="190.10" y2="292.30" stroke="#4f84bc" stroke-width="0.4"/>
<line x1="397.00" y1="231.00" x2="193.60" y2="298.30" stroke="#4f84bc" stroke-width="0.4"/>
<line x1="390.70" y1="303.60" x2="193.60" y2="277.90" stroke="#4f84bc" stroke-width="0.4"/>
<line x1="399.30" y1="313.20" x2="199.80" y2="302.60" stroke="#4f84bc" stroke-width="0.4"/>
<line x1="368.40" y1="326.70" x2="190.10" y2="283.70" stroke="#4f84bc" stroke-width="0.4"/>
<line x1="368.40" y1="326.70" x2="190.10" y2="292.30" stroke="#4f84bc" stroke-width="0.4"/>
<line x1="392.80" y1="333.70" x2="193.60" y2="298.30" stroke="#4f84bc" stroke-width="0.4"/>
<line x1="375.60" y1="346.80" x2="199.80" y2="302.60" stroke="#4f84bc" stroke-width="0.4"/>
<line x1="331.50" y1="355.00" x2="190.10" y2="292.30" stroke="#4f84bc" stroke-width="0.4"/>
<line x1="354.00" y1="367.50" x2="193.60" y2="277.90" stroke="#4f84bc" stroke-width="0.4"/>
<line x1="337.70" y1="370.80" x2="199.80" y2="302.60" stroke="#4f84bc" stroke-width="0.4"/>
<line x1="308.70" y1="365.20" x2="199.80" y2="302.60" stroke="#4f84bc" stroke-width="0.4"/>
<line x1="295.50" y1="373.70" x2="190.10" y2="292.30" stroke="#4f84bc" stroke-width="0.4"/>
<line x1="337.00" y1="205.00" x2="199.80" y2="274.20" stroke="#4f84bc" stroke-width="0.4"/>
<line x1="399.30" y1="295.90" x2="207.20" y2="272.70" stroke="#4f84bc" stroke-width="0.4"/>
<line x1="375.60" y1="321.40" x2="193.60" y2="277.90" stroke="#4f84bc" stroke-width="0.4"/>
<line x1="262.80" y1="219.40" x2="220.70" y2="288.10" stroke="#ee4a4a" stroke-width="0.4"/>
<line x1="262.80" y1="219.40" x2="219.30" y2="295.20" stroke="#ee4a4a" stroke-width="0.4"/>
<line x1="255.10" y1="235.40" x2="220.70" y2="288.10" stroke="#ee4a4a" stroke-width="0.4"/>
<line x1="255.10" y1="235.40" x2="219.30" y2="295.20" stroke="#ee4a4a" stroke-width="0.4"/>
<line x1="262.80" y1="241.60" x2="219.30" y2="295.20" stroke="#ee4a4a" stroke-width="0.4"/>
<line x1="272.40" y1="239.10" x2="220.70" y2="288.10" stroke="#ee4a4a" stroke-width="0.4"/>
<line x1="276.60" y1="230.50" x2="214.30" y2="300.10" stroke="#ee4a4a" stroke-width="0.4"/>
<line x1="321.00" y1="214.30" x2="220.70" y2="288.10" stroke="#ee4a4a" stroke-width="0.4"/>
<line x1="326.20" y1="223.50" x2="220.70" y2="288.10" stroke="#ee4a4a" stroke-width="0.4"/>
<line x1="337.00" y1="223.50" x2="219.30" y2="295.20" stroke="#ee4a4a" stroke-width="0.4"/>
<line x1="342.50" y1="214.30" x2="207.40" y2="302.60" stroke="#ee4a4a" stroke-width="0.4"/>
<line x1="371.10" y1="234.60" x2="220.70" y2="288.10" stroke="#ee4a4a" stroke-width="0.4"/>
<line x1="371.10" y1="242.70" x2="219.30" y2="295.20" stroke="#ee4a4a" stroke-width="0.4"/>
<line x1="375.60" y1="249.80" x2="207.40" y2="302.60" stroke="#ee4a4a" stroke-width="0.4"/>
<line x1="382.70" y1="252.80" x2="214.30" y2="300.10" stroke="#ee4a4a" stroke-width="0.4"/>
<line x1="397.00" y1="246.60" x2="220.70" y2="288.10" stroke="#ee4a4a" stroke-width="0.4"/>
<line x1="399.30" y1="295.90" x2="220.70" y2="288.10" stroke="#ee4a4a" stroke-width="0.4"/>
<line x1="390.70" y1="303.60" x2="219.30" y2="295.20" stroke="#ee4a4a" stroke-width="0.4"/>
<line x1="407.70" y1="303.60" x2="207.40" y2="302.60" stroke="#ee4a4a" stroke-width="0.4"/>
<line x1="368.40" y1="326.70" x2="207.40" y2="302.60" stroke="#ee4a4a" stroke-width="0.4"/>
<line x1="375.60" y1="321.40" x2="220.70" y2="288.10" stroke="#ee4a4a" stroke-width="0.4"/>
<line x1="390.60" y1="326.70" x2="214.30" y2="300.10" stroke="#ee4a4a" stroke-width="0.4"/>
<line x1="390.60" y1="341.90" x2="219.30" y2="295.20" stroke="#ee4a4a" stroke-width="0.4"/>
<line x1="383.80" y1="346.80" x2="207.40" y2="302.60" stroke="#ee4a4a" stroke-width="0.4"/>
<line x1="365.90" y1="333.70" x2="220.70" y2="288.10" stroke="#ee4a4a" stroke-width="0.4"/>
<line x1="331.50" y1="355.00" x2="207.40" y2="302.60" stroke="#ee4a4a" stroke-width="0.4"/>
<line x1="337.70" y1="347.70" x2="220.70" y2="288.10" stroke="#ee4a4a" stroke-width="0.4"/>
<line x1="345.90" y1="347.00" x2="219.30" y2="295.20" stroke="#ee4a4a" stroke-width="0.4"/>
<line x1="357.00" y1="359.30" x2="207.40" y2="302.60" stroke="#ee4a4a" stroke-width="0.4"/>
<line x1="345.70" y1="372.70" x2="220.70" y2="288.10" stroke="#ee4a4a" stroke-width="0.4"/>
<line x1="308.70" y1="365.20" x2="207.40" y2="302.60" stroke="#ee4a4a" stroke-width="0.4"/>
<line x1="315.10" y1="374.50" x2="219.30" y2="295.20" stroke="#ee4a4a" stroke-width="0.4"/>
<line x1="305.10" y1="383.30" x2="220.70" y2="288.10" stroke="#ee4a4a" stroke-width="0.4"/>
<line x1="262.80" y1="219.40" x2="207.40" y2="302.60" stroke="#ee4a4a" stroke-width="0.4"/>
<line x1="382.70" y1="224.60" x2="207.40" y2="302.60" stroke="#ee4a4a" stroke-width="0.4"/>
<text x="188.60" y="200.30" font-size="10" text-anchor="start" fill="#000" font-weight="bold" textLength="8.3" lengthAdjust="spacingAndGlyphs">e)</text>
<rect x="229.40" y="191.20" width="200.30" height="77.80" rx="13" ry="13" fill="none" stroke="#a0a0a0" stroke-width="0.55"/>
<rect x="374.70" y="278.00" width="53.90" height="39.20" rx="9" ry="9" fill="none" stroke="#a0a0a0" stroke-width="0.55"/>
<rect x="272.40" y="318.00" width="126.10" height="85.80" rx="12" ry="12" fill="none" stroke="#a0a0a0" stroke-width="0.55"/>
<text x="238.60" y="206.50" font-size="13.5" text-anchor="start" fill="#62258f" font-weight="bold" textLength="28.9" lengthAdjust="spacingAndGlyphs">Niche</text>
<text x="401.70" y="353.20" font-size="12.5" text-anchor="start" fill="#62258f" font-weight="bold" textLength="30" lengthAdjust="spacingAndGlyphs">Locus</text>
<text x="195.60" y="325.20" font-size="10.6" text-anchor="start" fill="#62258f" font-weight="bold" textLength="21.8" lengthAdjust="spacingAndGlyphs">Gene</text>
<circle cx="262.80" cy="219.40" r="3.0" fill="#2f6db5"/>
<circle cx="272.40" cy="221.30" r="2.1" fill="#2f6db5"/>
<circle cx="276.60" cy="230.50" r="2.1" fill="#2f6db5"/>
<circle cx="272.40" cy="239.10" r="2.1" fill="#2f6db5"/>
<circle cx="262.80" cy="241.60" r="2.1" fill="#2f6db5"/>
<circle cx="255.10" cy="235.40" r="2.1" fill="#2f6db5"/>
<circle cx="255.10" cy="225.00" r="2.1" fill="#2f6db5"/>
<circle cx="326.20" cy="205.00" r="2.1" fill="#0f6a38"/>
<circle cx="337.00" cy="205.00" r="2.1" fill="#0f6a38"/>
<circle cx="342.50" cy="214.30" r="2.1" fill="#0f6a38"/>
<circle cx="337.00" cy="223.50" r="2.1" fill="#0f6a38"/>
<circle cx="326.20" cy="223.50" r="2.1" fill="#0f6a38"/>
<circle cx="321.00" cy="214.30" r="2.6" fill="#0f6a38"/>
<circle cx="382.70" cy="224.60" r="2.1" fill="#f0609a"/>
<circle cx="390.80" cy="225.70" r="2.1" fill="#f0609a"/>
<circle cx="397.00" cy="231.00" r="2.1" fill="#f0609a"/>
<circle cx="399.30" cy="238.70" r="2.1" fill="#f0609a"/>
<circle cx="397.00" cy="246.60" r="2.1" fill="#f0609a"/>
<circle cx="390.80" cy="251.70" r="2.1" fill="#f0609a"/>
<circle cx="382.70" cy="252.80" r="2.1" fill="#f0609a"/>
<circle cx="375.60" cy="249.80" r="2.1" fill="#f0609a"/>
<circle cx="371.10" cy="242.70" r="2.1" fill="#f0609a"/>
<circle cx="371.10" cy="234.60" r="3.0" fill="#f0609a"/>
<circle cx="375.60" cy="227.90" r="2.1" fill="#f0609a"/>
<circle cx="399.3" cy="295.9" r="1.6" fill="#fff" stroke="#404040" stroke-width="0.8"/>
<circle cx="390.7" cy="303.6" r="1.6" fill="#fff" stroke="#404040" stroke-width="0.8"/>
<circle cx="407.7" cy="303.6" r="1.6" fill="#fff" stroke="#404040" stroke-width="0.8"/>
<circle cx="399.3" cy="313.2" r="1.6" fill="#fff" stroke="#404040" stroke-width="0.8"/>
<circle cx="407.70" cy="303.60" r="2.0" fill="#404040"/>
<rect x="373.95" y="319.75" width="3.3" height="3.3" fill="#3a8ad0"/>
<rect x="382.15" y="319.75" width="3.3" height="3.3" fill="#3a8ad0"/>
<rect x="388.95" y="325.05" width="3.3" height="3.3" fill="#3a8ad0"/>
<rect x="391.15" y="332.05" width="3.3" height="3.3" fill="#3a8ad0"/>
<rect x="388.95" y="340.25" width="3.3" height="3.3" fill="#3a8ad0"/>
<rect x="382.15" y="345.15" width="3.3" height="3.3" fill="#3a8ad0"/>
<rect x="373.95" y="345.15" width="3.3" height="3.3" fill="#3a8ad0"/>
<rect x="366.45" y="340.25" width="3.3" height="3.3" fill="#3a8ad0"/>
<rect x="364.25" y="332.05" width="3.3" height="3.3" fill="#3a8ad0"/>
<rect x="365.15" y="323.45" width="6.5" height="6.5" fill="#3a8ad0"/>
<rect x="336.05" y="346.05" width="3.3" height="3.3" fill="#f88a28"/>
<rect x="344.25" y="345.35" width="3.3" height="3.3" fill="#f88a28"/>
<rect x="352.35" y="349.35" width="3.3" height="3.3" fill="#f88a28"/>
<rect x="355.35" y="357.65" width="3.3" height="3.3" fill="#f88a28"/>
<rect x="352.35" y="365.85" width="3.3" height="3.3" fill="#f88a28"/>
<rect x="344.05" y="371.05" width="3.3" height="3.3" fill="#f88a28"/>
<rect x="336.05" y="369.15" width="3.3" height="3.3" fill="#f88a28"/>
<rect x="329.85" y="362.65" width="3.3" height="3.3" fill="#f88a28"/>
<rect x="328.75" y="352.25" width="5.5" height="5.5" fill="#f88a28"/>
<rect x="307.20" y="363.70" width="3.0" height="3.0" fill="#70c040"/>
<rect x="313.60" y="373.00" width="3.0" height="3.0" fill="#70c040"/>
<rect x="294.00" y="372.20" width="3.0" height="3.0" fill="#70c040"/>
<rect x="303.60" y="381.80" width="3.0" height="3.0" fill="#70c040"/>
<text x="262.80" y="219.95" font-size="1.6" text-anchor="middle" fill="#fff" stroke="#fff" stroke-width="0.15">104</text>
<text x="368.40" y="327.25" font-size="2.0" text-anchor="middle" fill="#fff" stroke="#fff" stroke-width="0.15">106</text>
<text x="331.50" y="355.55" font-size="1.8" text-anchor="middle" fill="#fff" stroke="#fff" stroke-width="0.15">101</text>
<text x="371.10" y="235.15" font-size="1.6" text-anchor="middle" fill="#fff" stroke="#fff" stroke-width="0.15">107</text>
<text x="321.00" y="214.85" font-size="1.6" text-anchor="middle" fill="#fff" stroke="#fff" stroke-width="0.15">101</text>
<text x="256.30" y="232.70" font-size="6.2" text-anchor="middle" fill="#000" stroke="#000" stroke-width="0.15" font-weight="bold" textLength="33.6" lengthAdjust="spacingAndGlyphs">Environment</text>
<text x="332.00" y="218.60" font-size="6.2" text-anchor="middle" fill="#000" stroke="#000" stroke-width="0.15" font-weight="bold" textLength="19.7" lengthAdjust="spacingAndGlyphs">Animal</text>
<text x="387.40" y="241.20" font-size="6.2" text-anchor="middle" fill="#000" stroke="#000" stroke-width="0.15" font-weight="bold" textLength="21.6" lengthAdjust="spacingAndGlyphs">Human</text>
<text x="402.80" y="287.50" font-size="6.2" text-anchor="middle" fill="#000" stroke="#000" stroke-width="0.15" font-weight="bold" textLength="45.9" lengthAdjust="spacingAndGlyphs">On Chromosomes</text>
<text x="401.10" y="310.90" font-size="6.2" text-anchor="middle" fill="#000" stroke="#000" stroke-width="0.15" font-weight="bold" textLength="33.9" lengthAdjust="spacingAndGlyphs">Chromosome</text>
<text x="381.40" y="337.10" font-size="6.2" text-anchor="middle" fill="#000" stroke="#000" stroke-width="0.15" font-weight="bold" textLength="13.3" lengthAdjust="spacingAndGlyphs">Conj</text>
<text x="344.10" y="362.10" font-size="6.2" text-anchor="middle" fill="#000" stroke="#000" stroke-width="0.15" font-weight="bold" textLength="20.3" lengthAdjust="spacingAndGlyphs">Unmob</text>
<text x="297.10" y="370.40" font-size="6.2" text-anchor="start" fill="#000" stroke="#000" stroke-width="0.15" font-weight="bold" textLength="12.9" lengthAdjust="spacingAndGlyphs">Mob</text>
<text x="297.10" y="379.20" font-size="6.2" text-anchor="start" fill="#000" stroke="#000" stroke-width="0.15" font-weight="bold" textLength="18.9" lengthAdjust="spacingAndGlyphs">unconj</text>
<text x="369.80" y="386.00" font-size="5.5" text-anchor="start" fill="#000" stroke="#000" stroke-width="0.15" font-weight="bold">On</text>
<text x="369.80" y="393.20" font-size="5.5" text-anchor="start" fill="#000" stroke="#000" stroke-width="0.15" font-weight="bold" textLength="23" lengthAdjust="spacingAndGlyphs">Plasmids</text>
<path d="M193.60,276.19 L195.50,279.61 L191.70,279.61 Z" fill="#d020a0"/>
<text x="191.00" y="279.10" font-size="3.5" text-anchor="end" fill="#2050a0" stroke="#2050a0" stroke-width="0.15" font-weight="bold">qnrB20</text>
<path d="M199.80,272.49 L201.70,275.91 L197.90,275.91 Z" fill="#f8c0a0"/>
<text x="197.80" y="273.00" font-size="2.4" text-anchor="end" fill="#505050" stroke="#505050" stroke-width="0.15">qnrB2</text>
<path d="M207.20,270.99 L209.10,274.41 L205.30,274.41 Z" fill="#d090e0"/>
<text x="205.20" y="271.50" font-size="2.4" text-anchor="end" fill="#505050" stroke="#505050" stroke-width="0.15">qnrB19</text>
<path d="M214.30,273.09 L216.20,276.51 L212.40,276.51 Z" fill="#30d0e0"/>
<text x="212.30" y="273.60" font-size="2.4" text-anchor="end" fill="#505050" stroke="#505050" stroke-width="0.15">oqxA</text>
<path d="M219.30,279.29 L221.20,282.71 L217.40,282.71 Z" fill="#f08080"/>
<text x="216.90" y="281.90" font-size="2.5" text-anchor="end" fill="#505050" stroke="#505050" stroke-width="0.15">qnrB1</text>
<path d="M220.70,286.39 L222.60,289.81 L218.80,289.81 Z" fill="#503090"/>
<text x="218.10" y="289.30" font-size="3.5" text-anchor="end" fill="#d02020" stroke="#d02020" stroke-width="0.15" font-weight="bold">qnrS2</text>
<path d="M219.30,293.49 L221.20,296.91 L217.40,296.91 Z" fill="#b040b0"/>
<text x="216.70" y="296.40" font-size="3.5" text-anchor="end" fill="#d02020" stroke="#d02020" stroke-width="0.15" font-weight="bold">qnrB4</text>
<path d="M214.30,298.39 L216.20,301.81 L212.40,301.81 Z" fill="#5060c0"/>
<text x="216.70" y="301.30" font-size="3.5" text-anchor="start" fill="#d02020" stroke="#d02020" stroke-width="0.15" font-weight="bold">qnrS4</text>
<path d="M199.80,300.89 L201.70,304.31 L197.90,304.31 Z" fill="#c06010"/>
<text x="197.20" y="303.80" font-size="3.5" text-anchor="end" fill="#2050a0" stroke="#2050a0" stroke-width="0.15" font-weight="bold">qnrS3</text>
<path d="M193.60,296.59 L195.50,300.01 L191.70,300.01 Z" fill="#8080f0"/>
<text x="191.20" y="299.20" font-size="2.5" text-anchor="end" fill="#505050" stroke="#505050" stroke-width="0.15">qnrD1</text>
<path d="M190.10,290.59 L192.00,294.01 L188.20,294.01 Z" fill="#40a040"/>
<text x="187.50" y="293.50" font-size="3.5" text-anchor="end" fill="#2050a0" stroke="#2050a0" stroke-width="0.15" font-weight="bold">aac(6')-Ib-cr</text>
<path d="M190.10,281.99 L192.00,285.41 L188.20,285.41 Z" fill="#fcd0b0"/>
<text x="187.70" y="284.60" font-size="2.5" text-anchor="end" fill="#505050" stroke="#505050" stroke-width="0.15">qnrB6</text>
<path d="M207.3,297.4 L212.8,307.9 L202,307.9 Z" fill="#e52020"/>
<text x="207.40" y="305.05" font-size="1.8" text-anchor="middle" fill="#fff" stroke="#fff" stroke-width="0.15">501</text>
<text x="206.80" y="312.00" font-size="3.5" text-anchor="middle" fill="#d02020" stroke="#d02020" stroke-width="0.15" font-weight="bold">qnrS1</text>
<text x="461.20" y="7.50" font-size="10" text-anchor="start" fill="#000" font-weight="bold" textLength="8.4" lengthAdjust="spacingAndGlyphs">c)</text>
<rect x="605.38" y="31.50" width="8.98" height="4.50" fill="#ff5a60"/>
<rect x="492.60" y="35.70" width="8.98" height="4.50" fill="#ffebec"/>
<rect x="501.28" y="35.70" width="8.98" height="4.50" fill="#ffd6d7"/>
<rect x="535.98" y="35.70" width="8.98" height="4.50" fill="#ffeeef"/>
<rect x="553.33" y="35.70" width="8.98" height="4.50" fill="#ffb5b7"/>
<rect x="605.38" y="35.70" width="8.98" height="4.50" fill="#ff5a60"/>
<rect x="535.98" y="44.10" width="8.98" height="4.50" fill="#fff7f7"/>
<rect x="535.98" y="48.30" width="8.98" height="4.50" fill="#ffeeef"/>
<rect x="553.33" y="48.30" width="8.98" height="4.50" fill="#ffe1e2"/>
<rect x="492.60" y="52.50" width="8.98" height="4.50" fill="#fff7f7"/>
<rect x="614.05" y="56.70" width="8.98" height="4.50" fill="#ffd1d2"/>
<rect x="631.40" y="60.90" width="8.98" height="4.50" fill="#ff5a60"/>
<rect x="631.40" y="65.10" width="8.98" height="4.50" fill="#ff5a60"/>
<rect x="492.60" y="73.50" width="8.98" height="4.50" fill="#ffd1d2"/>
<rect x="501.28" y="73.50" width="8.98" height="4.50" fill="#ffd1d2"/>
<rect x="509.95" y="73.50" width="8.98" height="4.50" fill="#ffc0c3"/>
<rect x="518.62" y="73.50" width="8.98" height="4.50" fill="#ff6268"/>
<rect x="535.98" y="73.50" width="8.98" height="4.50" fill="#ff6268"/>
<rect x="553.33" y="73.50" width="8.98" height="4.50" fill="#ffa4a8"/>
<rect x="570.68" y="73.50" width="8.98" height="4.50" fill="#ff6268"/>
<rect x="553.33" y="77.70" width="8.98" height="4.50" fill="#fff5f5"/>
<rect x="605.38" y="81.90" width="8.98" height="4.50" fill="#ff5a60"/>
<rect x="492.60" y="98.70" width="8.98" height="4.50" fill="#ffcecf"/>
<rect x="535.98" y="98.70" width="8.98" height="4.50" fill="#ffa4a8"/>
<rect x="553.33" y="98.70" width="8.98" height="4.50" fill="#ff5a60"/>
<rect x="622.73" y="98.70" width="8.98" height="4.50" fill="#ff5a60"/>
<rect x="492.60" y="119.70" width="8.98" height="4.50" fill="#fff8f9"/>
<rect x="553.33" y="123.90" width="8.98" height="4.50" fill="#fff5f5"/>
<rect x="492.60" y="128.10" width="8.98" height="4.50" fill="#ffc0c3"/>
<rect x="501.28" y="128.10" width="8.98" height="4.50" fill="#ffacb0"/>
<rect x="509.95" y="128.10" width="8.98" height="4.50" fill="#ff676d"/>
<rect x="527.30" y="128.10" width="8.98" height="4.50" fill="#ff5a60"/>
<rect x="535.98" y="128.10" width="8.98" height="4.50" fill="#ff9ca0"/>
<rect x="544.65" y="128.10" width="8.98" height="4.50" fill="#ff5a60"/>
<rect x="553.33" y="128.10" width="8.98" height="4.50" fill="#ff5a60"/>
<rect x="562.00" y="128.10" width="8.98" height="4.50" fill="#ff5a60"/>
<rect x="579.35" y="128.10" width="8.98" height="4.50" fill="#ffd1d2"/>
<rect x="588.03" y="128.10" width="8.98" height="4.50" fill="#ff5a60"/>
<rect x="596.70" y="128.10" width="8.98" height="4.50" fill="#ffcecf"/>
<rect x="614.05" y="128.10" width="8.98" height="4.50" fill="#ff5a60"/>
<rect x="622.73" y="128.10" width="8.98" height="4.50" fill="#ff5a60"/>
<rect x="631.40" y="128.10" width="8.98" height="4.50" fill="#ff5a60"/>
<rect x="535.98" y="136.50" width="8.98" height="4.50" fill="#fff8f9"/>
<rect x="631.40" y="136.50" width="8.98" height="4.50" fill="#ff5a60"/>
<rect x="509.95" y="140.70" width="8.98" height="4.50" fill="#ffc5c7"/>
<rect x="614.05" y="140.70" width="8.98" height="4.50" fill="#ffe1e2"/>
<rect x="614.05" y="149.10" width="8.98" height="4.50" fill="#ffcecf"/>
<rect x="492.60" y="153.30" width="8.98" height="4.50" fill="#fff5f5"/>
<line x1="491.40" y1="33.60" x2="492.60" y2="33.60" stroke="#222" stroke-width="0.55"/>
<text x="490.20" y="35.10" font-size="4.85" text-anchor="end" fill="#000" stroke="#000" stroke-width="0.15" textLength="15.13" lengthAdjust="spacingAndGlyphs">IS1294</text>
<line x1="491.40" y1="37.80" x2="492.60" y2="37.80" stroke="#222" stroke-width="0.55"/>
<text x="490.20" y="39.30" font-size="4.85" text-anchor="end" fill="#000" stroke="#000" stroke-width="0.15" textLength="15.13" lengthAdjust="spacingAndGlyphs">IS1326</text>
<line x1="491.40" y1="42.00" x2="492.60" y2="42.00" stroke="#222" stroke-width="0.55"/>
<text x="490.20" y="43.50" font-size="4.85" text-anchor="end" fill="#000" stroke="#000" stroke-width="0.15" textLength="19.21" lengthAdjust="spacingAndGlyphs">IS15DIV</text>
<line x1="491.40" y1="46.20" x2="492.60" y2="46.20" stroke="#222" stroke-width="0.55"/>
<text x="490.20" y="47.70" font-size="4.85" text-anchor="end" fill="#000" stroke="#000" stroke-width="0.15" textLength="10.77" lengthAdjust="spacingAndGlyphs">IS1B</text>
<line x1="491.40" y1="50.40" x2="492.60" y2="50.40" stroke="#222" stroke-width="0.55"/>
<text x="490.20" y="51.90" font-size="4.85" text-anchor="end" fill="#000" stroke="#000" stroke-width="0.15" textLength="10.77" lengthAdjust="spacingAndGlyphs">IS1R</text>
<line x1="491.40" y1="54.60" x2="492.60" y2="54.60" stroke="#222" stroke-width="0.55"/>
<text x="490.20" y="56.10" font-size="4.85" text-anchor="end" fill="#000" stroke="#000" stroke-width="0.15" textLength="10.19" lengthAdjust="spacingAndGlyphs">IS1S</text>
<line x1="491.40" y1="58.80" x2="492.60" y2="58.80" stroke="#222" stroke-width="0.55"/>
<text x="490.20" y="60.30" font-size="4.85" text-anchor="end" fill="#000" stroke="#000" stroke-width="0.15" textLength="13.68" lengthAdjust="spacingAndGlyphs">IS1X1</text>
<line x1="491.40" y1="63.00" x2="492.60" y2="63.00" stroke="#222" stroke-width="0.55"/>
<text x="490.20" y="64.50" font-size="4.85" text-anchor="end" fill="#000" stroke="#000" stroke-width="0.15" textLength="13.68" lengthAdjust="spacingAndGlyphs">IS1X2</text>
<line x1="491.40" y1="67.20" x2="492.60" y2="67.20" stroke="#222" stroke-width="0.55"/>
<text x="490.20" y="68.70" font-size="4.85" text-anchor="end" fill="#000" stroke="#000" stroke-width="0.15" textLength="13.68" lengthAdjust="spacingAndGlyphs">IS1X3</text>
<line x1="491.40" y1="71.40" x2="492.60" y2="71.40" stroke="#222" stroke-width="0.55"/>
<text x="490.20" y="72.90" font-size="4.85" text-anchor="end" fill="#000" stroke="#000" stroke-width="0.15" textLength="7.28" lengthAdjust="spacingAndGlyphs">IS2</text>
<line x1="491.40" y1="75.60" x2="492.60" y2="75.60" stroke="#222" stroke-width="0.55"/>
<text x="490.20" y="77.10" font-size="4.85" text-anchor="end" fill="#000" stroke="#000" stroke-width="0.15" textLength="9.9" lengthAdjust="spacingAndGlyphs">IS26</text>
<line x1="491.40" y1="79.80" x2="492.60" y2="79.80" stroke="#222" stroke-width="0.55"/>
<text x="490.20" y="81.30" font-size="4.85" text-anchor="end" fill="#000" stroke="#000" stroke-width="0.15" textLength="15.13" lengthAdjust="spacingAndGlyphs">IS4321</text>
<line x1="491.40" y1="84.00" x2="492.60" y2="84.00" stroke="#222" stroke-width="0.55"/>
<text x="490.20" y="85.50" font-size="4.85" text-anchor="end" fill="#000" stroke="#000" stroke-width="0.15" textLength="15.13" lengthAdjust="spacingAndGlyphs">IS5075</text>
<line x1="491.40" y1="88.20" x2="492.60" y2="88.20" stroke="#222" stroke-width="0.55"/>
<text x="490.20" y="89.70" font-size="4.85" text-anchor="end" fill="#000" stroke="#000" stroke-width="0.15" textLength="11.06" lengthAdjust="spacingAndGlyphs">IS5D</text>
<line x1="491.40" y1="92.40" x2="492.60" y2="92.40" stroke="#222" stroke-width="0.55"/>
<text x="490.20" y="93.90" font-size="4.85" text-anchor="end" fill="#000" stroke="#000" stroke-width="0.15" textLength="15.13" lengthAdjust="spacingAndGlyphs">IS6100</text>
<line x1="491.40" y1="96.60" x2="492.60" y2="96.60" stroke="#222" stroke-width="0.55"/>
<text x="490.20" y="98.10" font-size="4.85" text-anchor="end" fill="#000" stroke="#000" stroke-width="0.15" textLength="12.51" lengthAdjust="spacingAndGlyphs">IS903</text>
<line x1="491.40" y1="100.80" x2="492.60" y2="100.80" stroke="#222" stroke-width="0.55"/>
<text x="490.20" y="102.30" font-size="4.85" text-anchor="end" fill="#000" stroke="#000" stroke-width="0.15" textLength="15.13" lengthAdjust="spacingAndGlyphs">ISApl1</text>
<line x1="491.40" y1="105.00" x2="492.60" y2="105.00" stroke="#222" stroke-width="0.55"/>
<text x="490.20" y="106.50" font-size="4.85" text-anchor="end" fill="#000" stroke="#000" stroke-width="0.15" textLength="16.0" lengthAdjust="spacingAndGlyphs">ISAba1</text>
<line x1="491.40" y1="109.20" x2="492.60" y2="109.20" stroke="#222" stroke-width="0.55"/>
<text x="490.20" y="110.70" font-size="4.85" text-anchor="end" fill="#000" stroke="#000" stroke-width="0.15" textLength="12.8" lengthAdjust="spacingAndGlyphs">ISEc1</text>
<line x1="491.40" y1="113.40" x2="492.60" y2="113.40" stroke="#222" stroke-width="0.55"/>
<text x="490.20" y="114.90" font-size="4.85" text-anchor="end" fill="#000" stroke="#000" stroke-width="0.15" textLength="15.42" lengthAdjust="spacingAndGlyphs">ISEc12</text>
<line x1="491.40" y1="117.60" x2="492.60" y2="117.60" stroke="#222" stroke-width="0.55"/>
<text x="490.20" y="119.10" font-size="4.85" text-anchor="end" fill="#000" stroke="#000" stroke-width="0.15" textLength="15.42" lengthAdjust="spacingAndGlyphs">ISEc23</text>
<line x1="491.40" y1="121.80" x2="492.60" y2="121.80" stroke="#222" stroke-width="0.55"/>
<text x="490.20" y="123.30" font-size="4.85" text-anchor="end" fill="#000" stroke="#000" stroke-width="0.15" textLength="15.42" lengthAdjust="spacingAndGlyphs">ISEc38</text>
<line x1="491.40" y1="126.00" x2="492.60" y2="126.00" stroke="#222" stroke-width="0.55"/>
<text x="490.20" y="127.50" font-size="4.85" text-anchor="end" fill="#000" stroke="#000" stroke-width="0.15" textLength="12.8" lengthAdjust="spacingAndGlyphs">ISEc9</text>
<line x1="491.40" y1="130.20" x2="492.60" y2="130.20" stroke="#222" stroke-width="0.55"/>
<text x="490.20" y="131.70" font-size="4.85" text-anchor="end" fill="#000" stroke="#000" stroke-width="0.15" textLength="15.42" lengthAdjust="spacingAndGlyphs">ISEcp1</text>
<line x1="491.40" y1="134.40" x2="492.60" y2="134.40" stroke="#222" stroke-width="0.55"/>
<text x="490.20" y="135.90" font-size="4.85" text-anchor="end" fill="#000" stroke="#000" stroke-width="0.15" textLength="16.3" lengthAdjust="spacingAndGlyphs">ISKpn8</text>
<line x1="491.40" y1="138.60" x2="492.60" y2="138.60" stroke="#222" stroke-width="0.55"/>
<text x="490.20" y="140.10" font-size="4.85" text-anchor="end" fill="#000" stroke="#000" stroke-width="0.15" textLength="18.92" lengthAdjust="spacingAndGlyphs">ISKpn19</text>
<line x1="491.40" y1="142.80" x2="492.60" y2="142.80" stroke="#222" stroke-width="0.55"/>
<text x="490.20" y="144.30" font-size="4.85" text-anchor="end" fill="#000" stroke="#000" stroke-width="0.15" textLength="18.92" lengthAdjust="spacingAndGlyphs">ISKpn26</text>
<line x1="491.40" y1="147.00" x2="492.60" y2="147.00" stroke="#222" stroke-width="0.55"/>
<text x="490.20" y="148.50" font-size="4.85" text-anchor="end" fill="#000" stroke="#000" stroke-width="0.15" textLength="14.55" lengthAdjust="spacingAndGlyphs">ISShes</text>
<line x1="491.40" y1="151.20" x2="492.60" y2="151.20" stroke="#222" stroke-width="0.55"/>
<text x="490.20" y="152.70" font-size="4.85" text-anchor="end" fill="#000" stroke="#000" stroke-width="0.15" textLength="15.13" lengthAdjust="spacingAndGlyphs">ISSen9</text>
<line x1="491.40" y1="155.40" x2="492.60" y2="155.40" stroke="#222" stroke-width="0.55"/>
<text x="490.20" y="156.90" font-size="4.85" text-anchor="end" fill="#000" stroke="#000" stroke-width="0.15" textLength="15.42" lengthAdjust="spacingAndGlyphs">ISVsa5</text>
<line x1="496.80" y1="156.90" x2="496.80" y2="158.10" stroke="#222" stroke-width="0.55"/>
<text transform="translate(499.20,163.20) rotate(-45)" font-size="5.0" stroke="#000" stroke-width="0.15" text-anchor="end">blaCTX-M-14</text>
<line x1="505.99" y1="156.90" x2="505.99" y2="158.10" stroke="#222" stroke-width="0.55"/>
<text transform="translate(508.39,163.20) rotate(-45)" font-size="5.0" stroke="#000" stroke-width="0.15" text-anchor="end">blaCTX-M-15</text>
<line x1="515.18" y1="156.90" x2="515.18" y2="158.10" stroke="#222" stroke-width="0.55"/>
<text transform="translate(517.58,163.20) rotate(-45)" font-size="5.0" stroke="#000" stroke-width="0.15" text-anchor="end">blaCTX-M-64</text>
<line x1="524.37" y1="156.90" x2="524.37" y2="158.10" stroke="#222" stroke-width="0.55"/>
<text transform="translate(526.77,163.20) rotate(-45)" font-size="5.0" stroke="#000" stroke-width="0.15" text-anchor="end">blaCTX-M-9</text>
<line x1="533.56" y1="156.90" x2="533.56" y2="158.10" stroke="#222" stroke-width="0.55"/>
<text transform="translate(535.96,163.20) rotate(-45)" font-size="5.0" stroke="#000" stroke-width="0.15" text-anchor="end">blaCTX-M-24</text>
<line x1="542.75" y1="156.90" x2="542.75" y2="158.10" stroke="#222" stroke-width="0.55"/>
<text transform="translate(545.15,163.20) rotate(-45)" font-size="5.0" stroke="#000" stroke-width="0.15" text-anchor="end">blaCTX-M-27</text>
<line x1="551.94" y1="156.90" x2="551.94" y2="158.10" stroke="#222" stroke-width="0.55"/>
<text transform="translate(554.34,163.20) rotate(-45)" font-size="5.0" stroke="#000" stroke-width="0.15" text-anchor="end">blaCTX-M-55</text>
<line x1="561.13" y1="156.90" x2="561.13" y2="158.10" stroke="#222" stroke-width="0.55"/>
<text transform="translate(563.53,163.20) rotate(-45)" font-size="5.0" stroke="#000" stroke-width="0.15" text-anchor="end">blaCTX-M-65</text>
<line x1="570.32" y1="156.90" x2="570.32" y2="158.10" stroke="#222" stroke-width="0.55"/>
<text transform="translate(572.72,163.20) rotate(-45)" font-size="5.0" stroke="#000" stroke-width="0.15" text-anchor="end">blaCTX-M-69</text>
<line x1="579.51" y1="156.90" x2="579.51" y2="158.10" stroke="#222" stroke-width="0.55"/>
<text transform="translate(581.91,163.20) rotate(-45)" font-size="5.0" stroke="#000" stroke-width="0.15" text-anchor="end">blaCTX-M-216</text>
<line x1="588.70" y1="156.90" x2="588.70" y2="158.10" stroke="#222" stroke-width="0.55"/>
<text transform="translate(591.10,163.20) rotate(-45)" font-size="5.0" stroke="#000" stroke-width="0.15" text-anchor="end">blaCTX-M-226</text>
<line x1="597.89" y1="156.90" x2="597.89" y2="158.10" stroke="#222" stroke-width="0.55"/>
<text transform="translate(600.29,163.20) rotate(-45)" font-size="5.0" stroke="#000" stroke-width="0.15" text-anchor="end">blaCTX-M-1</text>
<line x1="607.08" y1="156.90" x2="607.08" y2="158.10" stroke="#222" stroke-width="0.55"/>
<text transform="translate(609.48,163.20) rotate(-45)" font-size="5.0" stroke="#000" stroke-width="0.15" text-anchor="end">blaCTX-M-116</text>
<line x1="616.27" y1="156.90" x2="616.27" y2="158.10" stroke="#222" stroke-width="0.55"/>
<text transform="translate(618.67,163.20) rotate(-45)" font-size="5.0" stroke="#000" stroke-width="0.15" text-anchor="end">blaCTX-M-123</text>
<line x1="625.46" y1="156.90" x2="625.46" y2="158.10" stroke="#222" stroke-width="0.55"/>
<text transform="translate(627.86,163.20) rotate(-45)" font-size="5.0" stroke="#000" stroke-width="0.15" text-anchor="end">blaCTX-M-130</text>
<line x1="634.65" y1="156.90" x2="634.65" y2="158.10" stroke="#222" stroke-width="0.55"/>
<text transform="translate(637.05,163.20) rotate(-45)" font-size="5.0" stroke="#000" stroke-width="0.15" text-anchor="end">blaCTX-M-3</text>
<line x1="491.30" y1="3.10" x2="491.30" y2="27.40" stroke="#222" stroke-width="0.75"/>
<line x1="491.30" y1="27.40" x2="641.00" y2="27.40" stroke="#222" stroke-width="0.75"/>
<line x1="496.90" y1="27.40" x2="496.90" y2="29.00" stroke="#222" stroke-width="0.5"/>
<rect x="493.80" y="25.39" width="6.20" height="2.01" fill="#e8b0b8"/>
<text x="496.90" y="23.49" font-size="5.4" text-anchor="middle" fill="#000" stroke="#000" stroke-width="0.08">32</text>
<line x1="505.57" y1="27.40" x2="505.57" y2="29.00" stroke="#222" stroke-width="0.5"/>
<rect x="502.47" y="26.77" width="6.20" height="0.63" fill="#e8b0b8"/>
<text x="505.57" y="24.87" font-size="5.4" text-anchor="middle" fill="#000" stroke="#000" stroke-width="0.08">10</text>
<line x1="514.25" y1="27.40" x2="514.25" y2="29.00" stroke="#222" stroke-width="0.5"/>
<text x="514.25" y="25.37" font-size="5.4" text-anchor="middle" fill="#000" stroke="#000" stroke-width="0.08">2</text>
<line x1="522.92" y1="27.40" x2="522.92" y2="29.00" stroke="#222" stroke-width="0.5"/>
<text x="522.92" y="25.44" font-size="5.4" text-anchor="middle" fill="#000" stroke="#000" stroke-width="0.08">1</text>
<line x1="531.60" y1="27.40" x2="531.60" y2="29.00" stroke="#222" stroke-width="0.5"/>
<text x="531.60" y="25.44" font-size="5.4" text-anchor="middle" fill="#000" stroke="#000" stroke-width="0.08">1</text>
<line x1="540.27" y1="27.40" x2="540.27" y2="29.00" stroke="#222" stroke-width="0.5"/>
<rect x="537.17" y="25.64" width="6.20" height="1.76" fill="#e8b0b8"/>
<text x="540.27" y="23.74" font-size="5.4" text-anchor="middle" fill="#000" stroke="#000" stroke-width="0.08">28</text>
<line x1="548.95" y1="27.40" x2="548.95" y2="29.00" stroke="#222" stroke-width="0.5"/>
<rect x="545.85" y="5.20" width="6.20" height="22.20" fill="#e8b0b8"/>
<text x="548.95" y="3.30" font-size="5.4" text-anchor="middle" fill="#000" stroke="#000" stroke-width="0.08">353</text>
<line x1="557.62" y1="27.40" x2="557.62" y2="29.00" stroke="#222" stroke-width="0.5"/>
<rect x="554.52" y="25.26" width="6.20" height="2.14" fill="#e8b0b8"/>
<text x="557.62" y="23.36" font-size="5.4" text-anchor="middle" fill="#000" stroke="#000" stroke-width="0.08">34</text>
<line x1="566.30" y1="27.40" x2="566.30" y2="29.00" stroke="#222" stroke-width="0.5"/>
<text x="566.30" y="25.44" font-size="5.4" text-anchor="middle" fill="#000" stroke="#000" stroke-width="0.08">1</text>
<line x1="574.98" y1="27.40" x2="574.98" y2="29.00" stroke="#222" stroke-width="0.5"/>
<text x="574.98" y="25.44" font-size="5.4" text-anchor="middle" fill="#000" stroke="#000" stroke-width="0.08">1</text>
<line x1="583.65" y1="27.40" x2="583.65" y2="29.00" stroke="#222" stroke-width="0.5"/>
<rect x="580.55" y="27.09" width="6.20" height="0.31" fill="#e8b0b8"/>
<text x="583.65" y="25.19" font-size="5.4" text-anchor="middle" fill="#000" stroke="#000" stroke-width="0.08">5</text>
<line x1="592.33" y1="27.40" x2="592.33" y2="29.00" stroke="#222" stroke-width="0.5"/>
<text x="592.33" y="25.44" font-size="5.4" text-anchor="middle" fill="#000" stroke="#000" stroke-width="0.08">1</text>
<line x1="601.00" y1="27.40" x2="601.00" y2="29.00" stroke="#222" stroke-width="0.5"/>
<text x="601.00" y="25.37" font-size="5.4" text-anchor="middle" fill="#000" stroke="#000" stroke-width="0.08">2</text>
<line x1="609.67" y1="27.40" x2="609.67" y2="29.00" stroke="#222" stroke-width="0.5"/>
<text x="609.67" y="25.44" font-size="5.4" text-anchor="middle" fill="#000" stroke="#000" stroke-width="0.08">1</text>
<line x1="618.35" y1="27.40" x2="618.35" y2="29.00" stroke="#222" stroke-width="0.5"/>
<text x="618.35" y="25.25" font-size="5.4" text-anchor="middle" fill="#000" stroke="#000" stroke-width="0.08">4</text>
<line x1="627.02" y1="27.40" x2="627.02" y2="29.00" stroke="#222" stroke-width="0.5"/>
<text x="627.02" y="25.37" font-size="5.4" text-anchor="middle" fill="#000" stroke="#000" stroke-width="0.08">2</text>
<line x1="635.70" y1="27.40" x2="635.70" y2="29.00" stroke="#222" stroke-width="0.5"/>
<rect x="632.60" y="27.09" width="6.20" height="0.31" fill="#e8b0b8"/>
<text x="635.70" y="25.19" font-size="5.4" text-anchor="middle" fill="#000" stroke="#000" stroke-width="0.08">5</text>
<text transform="translate(486.3,15.3) rotate(-90)" font-size="4.8" stroke="#000" stroke-width="0.12" text-anchor="middle" textLength="24.5" lengthAdjust="spacingAndGlyphs">ARG count</text>
<line x1="643.50" y1="31.50" x2="643.50" y2="157.40" stroke="#222" stroke-width="0.75"/>
<line x1="643.50" y1="157.40" x2="664.70" y2="157.40" stroke="#222" stroke-width="0.75"/>
<line x1="642.30" y1="33.60" x2="643.50" y2="33.60" stroke="#333" stroke-width="0.55"/>
<rect x="643.50" y="32.20" width="2.72" height="2.80" fill="#e8b8bc"/>
<text x="647.72" y="34.90" font-size="4.2" text-anchor="start" fill="#000" stroke="#000" stroke-width="0.1">2</text>
<line x1="642.30" y1="37.80" x2="643.50" y2="37.80" stroke="#333" stroke-width="0.55"/>
<rect x="643.50" y="36.40" width="8.16" height="2.80" fill="#e8b8bc"/>
<text x="653.16" y="39.10" font-size="4.2" text-anchor="start" fill="#000" stroke="#000" stroke-width="0.1">6</text>
<line x1="642.30" y1="42.00" x2="643.50" y2="42.00" stroke="#333" stroke-width="0.55"/>
<rect x="643.50" y="40.60" width="1.36" height="2.80" fill="#e8b8bc"/>
<text x="647.90" y="43.30" font-size="3.2" text-anchor="start" fill="#444" stroke="#444" stroke-width="0.03">1</text>
<line x1="642.30" y1="46.20" x2="643.50" y2="46.20" stroke="#333" stroke-width="0.55"/>
<rect x="643.50" y="44.80" width="1.36" height="2.80" fill="#e8b8bc"/>
<text x="647.90" y="47.50" font-size="3.2" text-anchor="start" fill="#444" stroke="#444" stroke-width="0.03">1</text>
<line x1="642.30" y1="50.40" x2="643.50" y2="50.40" stroke="#333" stroke-width="0.55"/>
<rect x="643.50" y="49.00" width="4.08" height="2.80" fill="#e8b8bc"/>
<text x="649.08" y="51.70" font-size="4.2" text-anchor="start" fill="#000" stroke="#000" stroke-width="0.1">3</text>
<line x1="642.30" y1="54.60" x2="643.50" y2="54.60" stroke="#333" stroke-width="0.55"/>
<rect x="643.50" y="53.20" width="1.36" height="2.80" fill="#e8b8bc"/>
<text x="647.90" y="55.90" font-size="3.2" text-anchor="start" fill="#444" stroke="#444" stroke-width="0.03">1</text>
<line x1="642.30" y1="58.80" x2="643.50" y2="58.80" stroke="#333" stroke-width="0.55"/>
<rect x="643.50" y="57.40" width="1.36" height="2.80" fill="#e8b8bc"/>
<text x="647.90" y="60.10" font-size="3.2" text-anchor="start" fill="#444" stroke="#444" stroke-width="0.03">1</text>
<line x1="642.30" y1="63.00" x2="643.50" y2="63.00" stroke="#333" stroke-width="0.55"/>
<rect x="643.50" y="61.60" width="2.72" height="2.80" fill="#e8b8bc"/>
<text x="647.72" y="64.30" font-size="4.2" text-anchor="start" fill="#000" stroke="#000" stroke-width="0.1">2</text>
<line x1="642.30" y1="67.20" x2="643.50" y2="67.20" stroke="#333" stroke-width="0.55"/>
<rect x="643.50" y="65.80" width="1.36" height="2.80" fill="#e8b8bc"/>
<text x="647.90" y="68.50" font-size="3.2" text-anchor="start" fill="#444" stroke="#444" stroke-width="0.03">1</text>
<line x1="642.30" y1="71.40" x2="643.50" y2="71.40" stroke="#333" stroke-width="0.55"/>
<rect x="643.50" y="70.00" width="1.36" height="2.80" fill="#e8b8bc"/>
<text x="647.90" y="72.70" font-size="3.2" text-anchor="start" fill="#444" stroke="#444" stroke-width="0.03">1</text>
<line x1="642.30" y1="75.60" x2="643.50" y2="75.60" stroke="#333" stroke-width="0.55"/>
<rect x="643.50" y="74.20" width="10.88" height="2.80" fill="#e8b8bc"/>
<text x="655.88" y="76.90" font-size="4.2" text-anchor="start" fill="#000" stroke="#000" stroke-width="0.1">8</text>
<line x1="642.30" y1="79.80" x2="643.50" y2="79.80" stroke="#333" stroke-width="0.55"/>
<rect x="643.50" y="78.40" width="1.36" height="2.80" fill="#e8b8bc"/>
<text x="647.90" y="81.10" font-size="3.2" text-anchor="start" fill="#444" stroke="#444" stroke-width="0.03">1</text>
<line x1="642.30" y1="84.00" x2="643.50" y2="84.00" stroke="#333" stroke-width="0.55"/>
<rect x="643.50" y="82.60" width="2.72" height="2.80" fill="#e8b8bc"/>
<text x="647.72" y="85.30" font-size="4.2" text-anchor="start" fill="#000" stroke="#000" stroke-width="0.1">2</text>
<line x1="642.30" y1="88.20" x2="643.50" y2="88.20" stroke="#333" stroke-width="0.55"/>
<rect x="643.50" y="86.80" width="1.36" height="2.80" fill="#e8b8bc"/>
<text x="647.90" y="89.50" font-size="3.2" text-anchor="start" fill="#444" stroke="#444" stroke-width="0.03">1</text>
<line x1="642.30" y1="92.40" x2="643.50" y2="92.40" stroke="#333" stroke-width="0.55"/>
<rect x="643.50" y="91.00" width="1.36" height="2.80" fill="#e8b8bc"/>
<text x="647.90" y="93.70" font-size="3.2" text-anchor="start" fill="#444" stroke="#444" stroke-width="0.03">1</text>
<line x1="642.30" y1="96.60" x2="643.50" y2="96.60" stroke="#333" stroke-width="0.55"/>
<rect x="643.50" y="95.20" width="1.36" height="2.80" fill="#e8b8bc"/>
<text x="647.90" y="97.90" font-size="3.2" text-anchor="start" fill="#444" stroke="#444" stroke-width="0.03">1</text>
<line x1="642.30" y1="100.80" x2="643.50" y2="100.80" stroke="#333" stroke-width="0.55"/>
<rect x="643.50" y="99.40" width="6.80" height="2.80" fill="#e8b8bc"/>
<text x="651.80" y="102.10" font-size="4.2" text-anchor="start" fill="#000" stroke="#000" stroke-width="0.1">5</text>
<line x1="642.30" y1="105.00" x2="643.50" y2="105.00" stroke="#333" stroke-width="0.55"/>
<rect x="643.50" y="103.60" width="1.36" height="2.80" fill="#e8b8bc"/>
<text x="647.90" y="106.30" font-size="3.2" text-anchor="start" fill="#444" stroke="#444" stroke-width="0.03">1</text>
<line x1="642.30" y1="109.20" x2="643.50" y2="109.20" stroke="#333" stroke-width="0.55"/>
<rect x="643.50" y="107.80" width="1.36" height="2.80" fill="#e8b8bc"/>
<text x="647.90" y="110.50" font-size="3.2" text-anchor="start" fill="#444" stroke="#444" stroke-width="0.03">1</text>
<line x1="642.30" y1="113.40" x2="643.50" y2="113.40" stroke="#333" stroke-width="0.55"/>
<rect x="643.50" y="112.00" width="1.36" height="2.80" fill="#e8b8bc"/>
<text x="647.90" y="114.70" font-size="3.2" text-anchor="start" fill="#444" stroke="#444" stroke-width="0.03">1</text>
<line x1="642.30" y1="117.60" x2="643.50" y2="117.60" stroke="#333" stroke-width="0.55"/>
<rect x="643.50" y="116.20" width="1.36" height="2.80" fill="#e8b8bc"/>
<text x="647.90" y="118.90" font-size="3.2" text-anchor="start" fill="#444" stroke="#444" stroke-width="0.03">1</text>
<line x1="642.30" y1="121.80" x2="643.50" y2="121.80" stroke="#333" stroke-width="0.55"/>
<rect x="643.50" y="120.40" width="1.36" height="2.80" fill="#e8b8bc"/>
<text x="647.90" y="123.10" font-size="3.2" text-anchor="start" fill="#444" stroke="#444" stroke-width="0.03">1</text>
<line x1="642.30" y1="126.00" x2="643.50" y2="126.00" stroke="#333" stroke-width="0.55"/>
<rect x="643.50" y="124.60" width="1.36" height="2.80" fill="#e8b8bc"/>
<text x="647.90" y="127.30" font-size="3.2" text-anchor="start" fill="#444" stroke="#444" stroke-width="0.03">1</text>
<line x1="642.30" y1="130.20" x2="643.50" y2="130.20" stroke="#333" stroke-width="0.55"/>
<rect x="643.50" y="128.80" width="19.04" height="2.80" fill="#e8b8bc"/>
<text x="664.04" y="131.50" font-size="4.2" text-anchor="start" fill="#000" stroke="#000" stroke-width="0.1">14</text>
<line x1="642.30" y1="134.40" x2="643.50" y2="134.40" stroke="#333" stroke-width="0.55"/>
<rect x="643.50" y="133.00" width="1.36" height="2.80" fill="#e8b8bc"/>
<text x="647.90" y="135.70" font-size="3.2" text-anchor="start" fill="#444" stroke="#444" stroke-width="0.03">1</text>
<line x1="642.30" y1="138.60" x2="643.50" y2="138.60" stroke="#333" stroke-width="0.55"/>
<rect x="643.50" y="137.20" width="2.72" height="2.80" fill="#e8b8bc"/>
<text x="647.72" y="139.90" font-size="4.2" text-anchor="start" fill="#000" stroke="#000" stroke-width="0.1">2</text>
<line x1="642.30" y1="142.80" x2="643.50" y2="142.80" stroke="#333" stroke-width="0.55"/>
<rect x="643.50" y="141.40" width="4.08" height="2.80" fill="#e8b8bc"/>
<text x="649.08" y="144.10" font-size="4.2" text-anchor="start" fill="#000" stroke="#000" stroke-width="0.1">3</text>
<line x1="642.30" y1="147.00" x2="643.50" y2="147.00" stroke="#333" stroke-width="0.55"/>
<rect x="643.50" y="145.60" width="1.36" height="2.80" fill="#e8b8bc"/>
<text x="647.90" y="148.30" font-size="3.2" text-anchor="start" fill="#444" stroke="#444" stroke-width="0.03">1</text>
<line x1="642.30" y1="151.20" x2="643.50" y2="151.20" stroke="#333" stroke-width="0.55"/>
<rect x="643.50" y="149.80" width="1.36" height="2.80" fill="#e8b8bc"/>
<text x="647.90" y="152.50" font-size="3.2" text-anchor="start" fill="#444" stroke="#444" stroke-width="0.03">1</text>
<line x1="642.30" y1="155.40" x2="643.50" y2="155.40" stroke="#333" stroke-width="0.55"/>
<rect x="643.50" y="154.00" width="1.36" height="2.80" fill="#e8b8bc"/>
<text x="647.90" y="156.70" font-size="3.2" text-anchor="start" fill="#444" stroke="#444" stroke-width="0.03">1</text>
<line x1="643.50" y1="157.40" x2="643.50" y2="158.40" stroke="#222" stroke-width="0.4"/>
<text transform="translate(645.10,160.20) rotate(-45)" font-size="3.9" stroke="#000" stroke-width="0.06" text-anchor="end">0</text>
<line x1="650.10" y1="157.40" x2="650.10" y2="158.40" stroke="#222" stroke-width="0.4"/>
<text transform="translate(651.70,160.20) rotate(-45)" font-size="3.9" stroke="#000" stroke-width="0.06" text-anchor="end">5</text>
<line x1="656.70" y1="157.40" x2="656.70" y2="158.40" stroke="#222" stroke-width="0.4"/>
<text transform="translate(658.30,160.20) rotate(-45)" font-size="3.9" stroke="#000" stroke-width="0.06" text-anchor="end">10</text>
<line x1="663.30" y1="157.40" x2="663.30" y2="158.40" stroke="#222" stroke-width="0.4"/>
<text transform="translate(664.90,160.20) rotate(-45)" font-size="3.9" stroke="#000" stroke-width="0.06" text-anchor="end">15</text>
<text x="654.90" y="169.50" font-size="4.6" text-anchor="middle" fill="#000" stroke="#000" stroke-width="0.05" textLength="29.8" lengthAdjust="spacingAndGlyphs">ARG subtypes</text>
<defs><linearGradient id="gc" x1="0" y1="1" x2="0" y2="0"><stop offset="0" stop-color="#ffffff"/><stop offset="1" stop-color="#ff5a60"/></linearGradient><linearGradient id="gf" x1="0" y1="1" x2="0" y2="0"><stop offset="0" stop-color="#ffffff"/><stop offset="0.2" stop-color="#d0deee"/><stop offset="0.4" stop-color="#a8bcdc"/><stop offset="0.6" stop-color="#8c74b8"/><stop offset="0.8" stop-color="#7a3a98"/><stop offset="1" stop-color="#6a0a6e"/></linearGradient></defs>
<rect x="671.00" y="20.20" width="4.80" height="47.10" fill="url(#gc)"/>
<text x="673.80" y="18.00" font-size="4.5" text-anchor="middle" fill="#000" stroke="#000" stroke-width="0.05" font-weight="bold" textLength="21.2" lengthAdjust="spacingAndGlyphs">Frequency</text>
<line x1="675.80" y1="67.30" x2="677.00" y2="67.30" stroke="#333" stroke-width="0.4"/>
<text x="677.30" y="68.50" font-size="3.6" text-anchor="start" fill="#000" stroke="#000" stroke-width="0.06">0</text>
<line x1="675.80" y1="57.88" x2="677.00" y2="57.88" stroke="#333" stroke-width="0.4"/>
<text x="677.30" y="59.08" font-size="3.6" text-anchor="start" fill="#000" stroke="#000" stroke-width="0.06">0.2</text>
<line x1="675.80" y1="48.46" x2="677.00" y2="48.46" stroke="#333" stroke-width="0.4"/>
<text x="677.30" y="49.66" font-size="3.6" text-anchor="start" fill="#000" stroke="#000" stroke-width="0.06">0.4</text>
<line x1="675.80" y1="39.04" x2="677.00" y2="39.04" stroke="#333" stroke-width="0.4"/>
<text x="677.30" y="40.24" font-size="3.6" text-anchor="start" fill="#000" stroke="#000" stroke-width="0.06">0.6</text>
<line x1="675.80" y1="29.62" x2="677.00" y2="29.62" stroke="#333" stroke-width="0.4"/>
<text x="677.30" y="30.82" font-size="3.6" text-anchor="start" fill="#000" stroke="#000" stroke-width="0.06">0.8</text>
<line x1="675.80" y1="20.20" x2="677.00" y2="20.20" stroke="#333" stroke-width="0.4"/>
<text x="677.30" y="21.40" font-size="3.6" text-anchor="start" fill="#000" stroke="#000" stroke-width="0.06">1</text>
<text x="462.20" y="194.70" font-size="10.4" text-anchor="start" fill="#000" font-weight="bold" textLength="6.8" lengthAdjust="spacingAndGlyphs">f)</text>
<rect x="501.20" y="242.75" width="12.25" height="4.23" fill="#f4f7fb"/>
<rect x="572.90" y="246.68" width="12.25" height="4.23" fill="#fbfcfd"/>
<rect x="501.20" y="250.61" width="12.25" height="4.23" fill="#a6b3d8"/>
<rect x="537.05" y="250.61" width="12.25" height="4.23" fill="#f0f3f9"/>
<rect x="549.00" y="250.61" width="12.25" height="4.23" fill="#c9d5e9"/>
<rect x="560.95" y="250.61" width="12.25" height="4.23" fill="#d4deee"/>
<rect x="572.90" y="250.61" width="12.25" height="4.23" fill="#d4deee"/>
<rect x="501.20" y="254.54" width="12.25" height="4.23" fill="#f8fafc"/>
<rect x="560.95" y="254.54" width="12.25" height="4.23" fill="#f8fafc"/>
<rect x="572.90" y="254.54" width="12.25" height="4.23" fill="#f8fafc"/>
<rect x="501.20" y="258.47" width="12.25" height="4.23" fill="#fbfcfd"/>
<rect x="572.90" y="258.47" width="12.25" height="4.23" fill="#fbfcfd"/>
<rect x="560.95" y="262.40" width="12.25" height="4.23" fill="#f8fafc"/>
<rect x="572.90" y="262.40" width="12.25" height="4.23" fill="#fbfcfd"/>
<rect x="501.20" y="266.33" width="12.25" height="4.23" fill="#f8fafc"/>
<rect x="560.95" y="266.33" width="12.25" height="4.23" fill="#f8fafc"/>
<rect x="572.90" y="266.33" width="12.25" height="4.23" fill="#fbfcfd"/>
<rect x="537.05" y="270.26" width="12.25" height="4.23" fill="#f0f3f9"/>
<rect x="572.90" y="270.26" width="12.25" height="4.23" fill="#fbfcfd"/>
<rect x="501.20" y="274.19" width="12.25" height="4.23" fill="#f8fafc"/>
<rect x="560.95" y="274.19" width="12.25" height="4.23" fill="#f8fafc"/>
<rect x="572.90" y="274.19" width="12.25" height="4.23" fill="#fbfcfd"/>
<rect x="608.75" y="274.19" width="12.25" height="4.23" fill="#905fb0"/>
<rect x="572.90" y="278.12" width="12.25" height="4.23" fill="#fbfcfd"/>
<rect x="572.90" y="282.05" width="12.25" height="4.23" fill="#fbfcfd"/>
<rect x="572.90" y="285.98" width="12.25" height="4.23" fill="#fbfcfd"/>
<rect x="501.20" y="289.91" width="12.25" height="4.23" fill="#4c0050"/>
<rect x="537.05" y="289.91" width="12.25" height="4.23" fill="#4c0050"/>
<rect x="549.00" y="289.91" width="12.25" height="4.23" fill="#4c0050"/>
<rect x="560.95" y="289.91" width="12.25" height="4.23" fill="#752386"/>
<rect x="572.90" y="289.91" width="12.25" height="4.23" fill="#7e2b93"/>
<rect x="620.70" y="289.91" width="12.25" height="4.23" fill="#4c0050"/>
<rect x="572.90" y="293.84" width="12.25" height="4.23" fill="#fbfcfd"/>
<rect x="501.20" y="297.77" width="12.25" height="4.23" fill="#e9eef6"/>
<rect x="572.90" y="297.77" width="12.25" height="4.23" fill="#fbfcfd"/>
<rect x="501.20" y="301.70" width="12.25" height="4.23" fill="#f2f5fa"/>
<rect x="572.90" y="301.70" width="12.25" height="4.23" fill="#fbfcfd"/>
<rect x="513.15" y="305.63" width="12.25" height="4.23" fill="#8a47a5"/>
<rect x="525.10" y="305.63" width="12.25" height="4.23" fill="#4c0050"/>
<rect x="572.90" y="305.63" width="12.25" height="4.23" fill="#fbfcfd"/>
<rect x="608.75" y="305.63" width="12.25" height="4.23" fill="#c2d0e6"/>
<rect x="572.90" y="309.56" width="12.25" height="4.23" fill="#fbfcfd"/>
<rect x="596.80" y="309.56" width="12.25" height="4.23" fill="#e5ebf4"/>
<rect x="501.20" y="313.49" width="12.25" height="4.23" fill="#fbfcfd"/>
<rect x="572.90" y="313.49" width="12.25" height="4.23" fill="#fbfcfd"/>
<rect x="501.20" y="317.42" width="12.25" height="4.23" fill="#becde5"/>
<rect x="572.90" y="317.42" width="12.25" height="4.23" fill="#fbfcfd"/>
<rect x="501.20" y="321.35" width="12.25" height="4.23" fill="#f8fafc"/>
<rect x="572.90" y="321.35" width="12.25" height="4.23" fill="#fbfcfd"/>
<rect x="560.95" y="325.28" width="12.25" height="4.23" fill="#f0f3f9"/>
<rect x="572.90" y="325.28" width="12.25" height="4.23" fill="#fbfcfd"/>
<rect x="572.90" y="329.21" width="12.25" height="4.23" fill="#fbfcfd"/>
<rect x="501.20" y="333.14" width="12.25" height="4.23" fill="#f2f5fa"/>
<rect x="572.90" y="333.14" width="12.25" height="4.23" fill="#fbfcfd"/>
<rect x="501.20" y="337.07" width="12.25" height="4.23" fill="#f8fafc"/>
<rect x="572.90" y="337.07" width="12.25" height="4.23" fill="#fbfcfd"/>
<rect x="572.90" y="341.00" width="12.25" height="4.23" fill="#fbfcfd"/>
<rect x="549.00" y="344.93" width="12.25" height="4.23" fill="#c6d3e8"/>
<rect x="572.90" y="344.93" width="12.25" height="4.23" fill="#8a47a5"/>
<rect x="584.85" y="344.93" width="12.25" height="4.23" fill="#4c0050"/>
<rect x="560.95" y="348.86" width="12.25" height="4.23" fill="#ebf0f7"/>
<rect x="572.90" y="348.86" width="12.25" height="4.23" fill="#fbfcfd"/>
<rect x="572.90" y="352.79" width="12.25" height="4.23" fill="#fbfcfd"/>
<rect x="501.20" y="356.72" width="12.25" height="4.23" fill="#f6f8fc"/>
<rect x="549.00" y="356.72" width="12.25" height="4.23" fill="#c6d3e8"/>
<rect x="572.90" y="356.72" width="12.25" height="4.23" fill="#fbfcfd"/>
<rect x="572.90" y="360.65" width="12.25" height="4.23" fill="#fbfcfd"/>
<line x1="499.60" y1="244.72" x2="500.80" y2="244.72" stroke="#222" stroke-width="0.55"/>
<text x="498.80" y="246.16" font-size="4.6" text-anchor="end" fill="#000" stroke="#000" stroke-width="0.15" textLength="12.09" lengthAdjust="spacingAndGlyphs">IS102</text>
<line x1="499.60" y1="248.65" x2="500.80" y2="248.65" stroke="#222" stroke-width="0.55"/>
<text x="498.80" y="250.09" font-size="4.6" text-anchor="end" fill="#000" stroke="#000" stroke-width="0.15" textLength="12.37" lengthAdjust="spacingAndGlyphs">IS1S1</text>
<line x1="499.60" y1="252.57" x2="500.80" y2="252.57" stroke="#222" stroke-width="0.55"/>
<text x="498.80" y="254.02" font-size="4.6" text-anchor="end" fill="#000" stroke="#000" stroke-width="0.15" textLength="14.62" lengthAdjust="spacingAndGlyphs">IS1326</text>
<line x1="499.60" y1="256.50" x2="500.80" y2="256.50" stroke="#222" stroke-width="0.55"/>
<text x="498.80" y="257.95" font-size="4.6" text-anchor="end" fill="#000" stroke="#000" stroke-width="0.15" textLength="18.55" lengthAdjust="spacingAndGlyphs">IS15DIV</text>
<line x1="499.60" y1="260.44" x2="500.80" y2="260.44" stroke="#222" stroke-width="0.55"/>
<text x="498.80" y="261.88" font-size="4.6" text-anchor="end" fill="#000" stroke="#000" stroke-width="0.15" textLength="17.15" lengthAdjust="spacingAndGlyphs">IS15hrB</text>
<line x1="499.60" y1="264.37" x2="500.80" y2="264.37" stroke="#222" stroke-width="0.55"/>
<text x="498.80" y="265.81" font-size="4.6" text-anchor="end" fill="#000" stroke="#000" stroke-width="0.15" textLength="10.68" lengthAdjust="spacingAndGlyphs">IS1A</text>
<line x1="499.60" y1="268.30" x2="500.80" y2="268.30" stroke="#222" stroke-width="0.55"/>
<text x="498.80" y="269.75" font-size="4.6" text-anchor="end" fill="#000" stroke="#000" stroke-width="0.15" textLength="10.68" lengthAdjust="spacingAndGlyphs">IS1D</text>
<line x1="499.60" y1="272.23" x2="500.80" y2="272.23" stroke="#222" stroke-width="0.55"/>
<text x="498.80" y="273.68" font-size="4.6" text-anchor="end" fill="#000" stroke="#000" stroke-width="0.15" textLength="10.4" lengthAdjust="spacingAndGlyphs">IS1R</text>
<line x1="499.60" y1="276.15" x2="500.80" y2="276.15" stroke="#222" stroke-width="0.55"/>
<text x="498.80" y="277.60" font-size="4.6" text-anchor="end" fill="#000" stroke="#000" stroke-width="0.15" textLength="9.84" lengthAdjust="spacingAndGlyphs">IS1S</text>
<line x1="499.60" y1="280.08" x2="500.80" y2="280.08" stroke="#222" stroke-width="0.55"/>
<text x="498.80" y="281.53" font-size="4.6" text-anchor="end" fill="#000" stroke="#000" stroke-width="0.15" textLength="13.21" lengthAdjust="spacingAndGlyphs">IS1X1</text>
<line x1="499.60" y1="284.01" x2="500.80" y2="284.01" stroke="#222" stroke-width="0.55"/>
<text x="498.80" y="285.46" font-size="4.6" text-anchor="end" fill="#000" stroke="#000" stroke-width="0.15" textLength="13.21" lengthAdjust="spacingAndGlyphs">IS1X2</text>
<line x1="499.60" y1="287.94" x2="500.80" y2="287.94" stroke="#222" stroke-width="0.55"/>
<text x="498.80" y="289.39" font-size="4.6" text-anchor="end" fill="#000" stroke="#000" stroke-width="0.15" textLength="7.03" lengthAdjust="spacingAndGlyphs">IS2</text>
<line x1="499.60" y1="291.88" x2="500.80" y2="291.88" stroke="#222" stroke-width="0.55"/>
<text x="498.80" y="293.32" font-size="4.6" text-anchor="end" fill="#000" stroke="#000" stroke-width="0.15" textLength="9.56" lengthAdjust="spacingAndGlyphs">IS26</text>
<line x1="499.60" y1="295.81" x2="500.80" y2="295.81" stroke="#222" stroke-width="0.55"/>
<text x="498.80" y="297.25" font-size="4.6" text-anchor="end" fill="#000" stroke="#000" stroke-width="0.15" textLength="17.99" lengthAdjust="spacingAndGlyphs">IS4321R</text>
<line x1="499.60" y1="299.74" x2="500.80" y2="299.74" stroke="#222" stroke-width="0.55"/>
<text x="498.80" y="301.19" font-size="4.6" text-anchor="end" fill="#000" stroke="#000" stroke-width="0.15" textLength="14.62" lengthAdjust="spacingAndGlyphs">IS5075</text>
<line x1="499.60" y1="303.67" x2="500.80" y2="303.67" stroke="#222" stroke-width="0.55"/>
<text x="498.80" y="305.12" font-size="4.6" text-anchor="end" fill="#000" stroke="#000" stroke-width="0.15" textLength="10.68" lengthAdjust="spacingAndGlyphs">IS5D</text>
<line x1="499.60" y1="307.60" x2="500.80" y2="307.60" stroke="#222" stroke-width="0.55"/>
<text x="498.80" y="309.05" font-size="4.6" text-anchor="end" fill="#000" stroke="#000" stroke-width="0.15" textLength="14.62" lengthAdjust="spacingAndGlyphs">IS6100</text>
<line x1="499.60" y1="311.52" x2="500.80" y2="311.52" stroke="#222" stroke-width="0.55"/>
<text x="498.80" y="312.97" font-size="4.6" text-anchor="end" fill="#000" stroke="#000" stroke-width="0.15" textLength="15.46" lengthAdjust="spacingAndGlyphs">ISAba1</text>
<line x1="499.60" y1="315.45" x2="500.80" y2="315.45" stroke="#222" stroke-width="0.55"/>
<text x="498.80" y="316.90" font-size="4.6" text-anchor="end" fill="#000" stroke="#000" stroke-width="0.15" textLength="14.62" lengthAdjust="spacingAndGlyphs">ISApl1</text>
<line x1="499.60" y1="319.38" x2="500.80" y2="319.38" stroke="#222" stroke-width="0.55"/>
<text x="498.80" y="320.83" font-size="4.6" text-anchor="end" fill="#000" stroke="#000" stroke-width="0.15" textLength="13.77" lengthAdjust="spacingAndGlyphs">ISCfr1</text>
<line x1="499.60" y1="323.31" x2="500.80" y2="323.31" stroke="#222" stroke-width="0.55"/>
<text x="498.80" y="324.76" font-size="4.6" text-anchor="end" fill="#000" stroke="#000" stroke-width="0.15" textLength="12.37" lengthAdjust="spacingAndGlyphs">ISEc1</text>
<line x1="499.60" y1="327.25" x2="500.80" y2="327.25" stroke="#222" stroke-width="0.55"/>
<text x="498.80" y="328.69" font-size="4.6" text-anchor="end" fill="#000" stroke="#000" stroke-width="0.15" textLength="14.9" lengthAdjust="spacingAndGlyphs">ISEc12</text>
<line x1="499.60" y1="331.18" x2="500.80" y2="331.18" stroke="#222" stroke-width="0.55"/>
<text x="498.80" y="332.62" font-size="4.6" text-anchor="end" fill="#000" stroke="#000" stroke-width="0.15" textLength="14.9" lengthAdjust="spacingAndGlyphs">ISEc15</text>
<line x1="499.60" y1="335.11" x2="500.80" y2="335.11" stroke="#222" stroke-width="0.55"/>
<text x="498.80" y="336.56" font-size="4.6" text-anchor="end" fill="#000" stroke="#000" stroke-width="0.15" textLength="14.9" lengthAdjust="spacingAndGlyphs">ISEc23</text>
<line x1="499.60" y1="339.04" x2="500.80" y2="339.04" stroke="#222" stroke-width="0.55"/>
<text x="498.80" y="340.49" font-size="4.6" text-anchor="end" fill="#000" stroke="#000" stroke-width="0.15" textLength="14.9" lengthAdjust="spacingAndGlyphs">ISEc38</text>
<line x1="499.60" y1="342.97" x2="500.80" y2="342.97" stroke="#222" stroke-width="0.55"/>
<text x="498.80" y="344.42" font-size="4.6" text-anchor="end" fill="#000" stroke="#000" stroke-width="0.15" textLength="12.37" lengthAdjust="spacingAndGlyphs">ISEc9</text>
<line x1="499.60" y1="346.89" x2="500.80" y2="346.89" stroke="#222" stroke-width="0.55"/>
<text x="498.80" y="348.34" font-size="4.6" text-anchor="end" fill="#000" stroke="#000" stroke-width="0.15" textLength="14.9" lengthAdjust="spacingAndGlyphs">ISEcp1</text>
<line x1="499.60" y1="350.82" x2="500.80" y2="350.82" stroke="#222" stroke-width="0.55"/>
<text x="498.80" y="352.27" font-size="4.6" text-anchor="end" fill="#000" stroke="#000" stroke-width="0.15" textLength="18.27" lengthAdjust="spacingAndGlyphs">ISKpn19</text>
<line x1="499.60" y1="354.75" x2="500.80" y2="354.75" stroke="#222" stroke-width="0.55"/>
<text x="498.80" y="356.20" font-size="4.6" text-anchor="end" fill="#000" stroke="#000" stroke-width="0.15" textLength="18.27" lengthAdjust="spacingAndGlyphs">ISKpn26</text>
<line x1="499.60" y1="358.69" x2="500.80" y2="358.69" stroke="#222" stroke-width="0.55"/>
<text x="498.80" y="360.13" font-size="4.6" text-anchor="end" fill="#000" stroke="#000" stroke-width="0.15" textLength="14.62" lengthAdjust="spacingAndGlyphs">ISSen9</text>
<line x1="499.60" y1="362.62" x2="500.80" y2="362.62" stroke="#222" stroke-width="0.55"/>
<text x="498.80" y="364.06" font-size="4.6" text-anchor="end" fill="#000" stroke="#000" stroke-width="0.15" textLength="14.9" lengthAdjust="spacingAndGlyphs">ISVsa5</text>
<line x1="507.18" y1="364.90" x2="507.18" y2="366.10" stroke="#222" stroke-width="0.55"/>
<text transform="translate(509.78,369.60) rotate(-45)" font-size="5.3" stroke="#000" stroke-width="0.15" text-anchor="end">qnrS2</text>
<line x1="519.12" y1="364.90" x2="519.12" y2="366.10" stroke="#222" stroke-width="0.55"/>
<text transform="translate(521.73,369.60) rotate(-45)" font-size="5.3" stroke="#000" stroke-width="0.15" text-anchor="end">qnrB2</text>
<line x1="531.08" y1="364.90" x2="531.08" y2="366.10" stroke="#222" stroke-width="0.55"/>
<text transform="translate(533.68,369.60) rotate(-45)" font-size="5.3" stroke="#000" stroke-width="0.15" text-anchor="end">qnrB6</text>
<line x1="543.02" y1="364.90" x2="543.02" y2="366.10" stroke="#222" stroke-width="0.55"/>
<text transform="translate(545.62,369.60) rotate(-45)" font-size="5.3" stroke="#000" stroke-width="0.15" text-anchor="end">qnrB4</text>
<line x1="554.98" y1="364.90" x2="554.98" y2="366.10" stroke="#222" stroke-width="0.55"/>
<text transform="translate(557.58,369.60) rotate(-45)" font-size="5.3" stroke="#000" stroke-width="0.15" text-anchor="end">qnrS4</text>
<line x1="566.92" y1="364.90" x2="566.92" y2="366.10" stroke="#222" stroke-width="0.55"/>
<text transform="translate(569.52,369.60) rotate(-45)" font-size="5.3" stroke="#000" stroke-width="0.15" text-anchor="end">aac(6')-Ib-cr</text>
<line x1="578.88" y1="364.90" x2="578.88" y2="366.10" stroke="#222" stroke-width="0.55"/>
<text transform="translate(581.48,369.60) rotate(-45)" font-size="5.3" stroke="#000" stroke-width="0.15" text-anchor="end">qnrS1</text>
<line x1="590.83" y1="364.90" x2="590.83" y2="366.10" stroke="#222" stroke-width="0.55"/>
<text transform="translate(593.43,369.60) rotate(-45)" font-size="5.3" stroke="#000" stroke-width="0.15" text-anchor="end">qnrS3</text>
<line x1="602.77" y1="364.90" x2="602.77" y2="366.10" stroke="#222" stroke-width="0.55"/>
<text transform="translate(605.38,369.60) rotate(-45)" font-size="5.3" stroke="#000" stroke-width="0.15" text-anchor="end">qnrD1</text>
<line x1="614.73" y1="364.90" x2="614.73" y2="366.10" stroke="#222" stroke-width="0.55"/>
<text transform="translate(617.33,369.60) rotate(-45)" font-size="5.3" stroke="#000" stroke-width="0.15" text-anchor="end">qnrB20</text>
<line x1="626.67" y1="364.90" x2="626.67" y2="366.10" stroke="#222" stroke-width="0.55"/>
<text transform="translate(629.27,369.60) rotate(-45)" font-size="5.3" stroke="#000" stroke-width="0.15" text-anchor="end">oqxA</text>
<line x1="501.20" y1="215.50" x2="501.20" y2="237.30" stroke="#222" stroke-width="0.75"/>
<line x1="501.20" y1="237.30" x2="633.40" y2="237.30" stroke="#222" stroke-width="0.75"/>
<line x1="509.40" y1="237.30" x2="509.40" y2="238.90" stroke="#222" stroke-width="0.5"/>
<rect x="505.50" y="236.76" width="7.80" height="0.54" fill="#b8cce4"/>
<text x="509.40" y="235.16" font-size="4.6" text-anchor="middle" fill="#000" stroke="#000" stroke-width="0.08">14</text>
<line x1="521.10" y1="237.30" x2="521.10" y2="238.90" stroke="#222" stroke-width="0.5"/>
<text x="521.10" y="235.55" font-size="4.6" text-anchor="middle" fill="#000" stroke="#000" stroke-width="0.08">4</text>
<line x1="532.80" y1="237.30" x2="532.80" y2="238.90" stroke="#222" stroke-width="0.5"/>
<text x="532.80" y="235.66" font-size="4.6" text-anchor="middle" fill="#000" stroke="#000" stroke-width="0.08">1</text>
<line x1="544.50" y1="237.30" x2="544.50" y2="238.90" stroke="#222" stroke-width="0.5"/>
<rect x="540.60" y="236.87" width="7.80" height="0.43" fill="#b8cce4"/>
<text x="544.50" y="235.27" font-size="4.6" text-anchor="middle" fill="#000" stroke="#000" stroke-width="0.08">11</text>
<line x1="556.20" y1="237.30" x2="556.20" y2="238.90" stroke="#222" stroke-width="0.5"/>
<text x="556.20" y="235.58" font-size="4.6" text-anchor="middle" fill="#000" stroke="#000" stroke-width="0.08">3</text>
<line x1="567.90" y1="237.30" x2="567.90" y2="238.90" stroke="#222" stroke-width="0.5"/>
<rect x="564.00" y="236.33" width="7.80" height="0.97" fill="#b8cce4"/>
<text x="567.90" y="234.73" font-size="4.6" text-anchor="middle" fill="#000" stroke="#000" stroke-width="0.08">25</text>
<line x1="579.60" y1="237.30" x2="579.60" y2="238.90" stroke="#222" stroke-width="0.5"/>
<rect x="575.70" y="217.90" width="7.80" height="19.40" fill="#b8cce4"/>
<text x="579.60" y="216.30" font-size="4.6" text-anchor="middle" fill="#000" stroke="#000" stroke-width="0.08">501</text>
<line x1="591.30" y1="237.30" x2="591.30" y2="238.90" stroke="#222" stroke-width="0.5"/>
<text x="591.30" y="235.62" font-size="4.6" text-anchor="middle" fill="#000" stroke="#000" stroke-width="0.08">2</text>
<line x1="603.00" y1="237.30" x2="603.00" y2="238.90" stroke="#222" stroke-width="0.5"/>
<text x="603.00" y="235.43" font-size="4.6" text-anchor="middle" fill="#000" stroke="#000" stroke-width="0.08">7</text>
<line x1="614.70" y1="237.30" x2="614.70" y2="238.90" stroke="#222" stroke-width="0.5"/>
<text x="614.70" y="235.58" font-size="4.6" text-anchor="middle" fill="#000" stroke="#000" stroke-width="0.08">3</text>
<line x1="626.40" y1="237.30" x2="626.40" y2="238.90" stroke="#222" stroke-width="0.5"/>
<text x="626.40" y="235.66" font-size="4.6" text-anchor="middle" fill="#000" stroke="#000" stroke-width="0.08">1</text>
<text transform="translate(496.8,226.0) rotate(-90)" font-size="4.4" stroke="#000" stroke-width="0.12" text-anchor="middle" textLength="21" lengthAdjust="spacingAndGlyphs">ARG count</text>
<line x1="636.20" y1="242.75" x2="636.20" y2="364.60" stroke="#222" stroke-width="0.75"/>
<line x1="636.20" y1="364.60" x2="653.50" y2="364.60" stroke="#222" stroke-width="0.75"/>
<line x1="635.00" y1="244.72" x2="636.20" y2="244.72" stroke="#333" stroke-width="0.55"/>
<rect x="636.20" y="243.41" width="2.60" height="2.60" fill="#b8d0ec"/>
<text x="640.30" y="246.02" font-size="3.2" text-anchor="start" fill="#444" stroke="#444" stroke-width="0.03">1</text>
<line x1="635.00" y1="248.65" x2="636.20" y2="248.65" stroke="#333" stroke-width="0.55"/>
<rect x="636.20" y="247.34" width="2.60" height="2.60" fill="#b8d0ec"/>
<text x="640.30" y="249.95" font-size="3.2" text-anchor="start" fill="#444" stroke="#444" stroke-width="0.03">1</text>
<line x1="635.00" y1="252.57" x2="636.20" y2="252.57" stroke="#333" stroke-width="0.55"/>
<rect x="636.20" y="251.27" width="13.00" height="2.60" fill="#b8d0ec"/>
<text x="650.70" y="253.88" font-size="4.0" text-anchor="start" fill="#000" stroke="#000" stroke-width="0.1">5</text>
<line x1="635.00" y1="256.50" x2="636.20" y2="256.50" stroke="#333" stroke-width="0.55"/>
<rect x="636.20" y="255.20" width="7.80" height="2.60" fill="#b8d0ec"/>
<text x="645.50" y="257.81" font-size="4.0" text-anchor="start" fill="#000" stroke="#000" stroke-width="0.1">3</text>
<line x1="635.00" y1="260.44" x2="636.20" y2="260.44" stroke="#333" stroke-width="0.55"/>
<rect x="636.20" y="259.13" width="2.60" height="2.60" fill="#b8d0ec"/>
<text x="640.30" y="261.74" font-size="3.2" text-anchor="start" fill="#444" stroke="#444" stroke-width="0.03">1</text>
<line x1="635.00" y1="264.37" x2="636.20" y2="264.37" stroke="#333" stroke-width="0.55"/>
<rect x="636.20" y="263.06" width="2.60" height="2.60" fill="#b8d0ec"/>
<text x="640.30" y="265.67" font-size="3.2" text-anchor="start" fill="#444" stroke="#444" stroke-width="0.03">1</text>
<line x1="635.00" y1="268.30" x2="636.20" y2="268.30" stroke="#333" stroke-width="0.55"/>
<rect x="636.20" y="267.00" width="7.80" height="2.60" fill="#b8d0ec"/>
<text x="645.50" y="269.60" font-size="4.0" text-anchor="start" fill="#000" stroke="#000" stroke-width="0.1">3</text>
<line x1="635.00" y1="272.23" x2="636.20" y2="272.23" stroke="#333" stroke-width="0.55"/>
<rect x="636.20" y="270.93" width="5.20" height="2.60" fill="#b8d0ec"/>
<text x="642.90" y="273.53" font-size="4.0" text-anchor="start" fill="#000" stroke="#000" stroke-width="0.1">2</text>
<line x1="635.00" y1="276.15" x2="636.20" y2="276.15" stroke="#333" stroke-width="0.55"/>
<rect x="636.20" y="274.85" width="10.40" height="2.60" fill="#b8d0ec"/>
<text x="648.10" y="277.45" font-size="4.0" text-anchor="start" fill="#000" stroke="#000" stroke-width="0.1">4</text>
<line x1="635.00" y1="280.08" x2="636.20" y2="280.08" stroke="#333" stroke-width="0.55"/>
<rect x="636.20" y="278.78" width="2.60" height="2.60" fill="#b8d0ec"/>
<text x="640.30" y="281.38" font-size="3.2" text-anchor="start" fill="#444" stroke="#444" stroke-width="0.03">1</text>
<line x1="635.00" y1="284.01" x2="636.20" y2="284.01" stroke="#333" stroke-width="0.55"/>
<rect x="636.20" y="282.71" width="2.60" height="2.60" fill="#b8d0ec"/>
<text x="640.30" y="285.31" font-size="3.2" text-anchor="start" fill="#444" stroke="#444" stroke-width="0.03">1</text>
<line x1="635.00" y1="287.94" x2="636.20" y2="287.94" stroke="#333" stroke-width="0.55"/>
<rect x="636.20" y="286.64" width="2.60" height="2.60" fill="#b8d0ec"/>
<text x="640.30" y="289.25" font-size="3.2" text-anchor="start" fill="#444" stroke="#444" stroke-width="0.03">1</text>
<line x1="635.00" y1="291.88" x2="636.20" y2="291.88" stroke="#333" stroke-width="0.55"/>
<rect x="636.20" y="290.57" width="15.60" height="2.60" fill="#b8d0ec"/>
<text x="653.30" y="293.18" font-size="4.0" text-anchor="start" fill="#000" stroke="#000" stroke-width="0.1">6</text>
<line x1="635.00" y1="295.81" x2="636.20" y2="295.81" stroke="#333" stroke-width="0.55"/>
<rect x="636.20" y="294.50" width="2.60" height="2.60" fill="#b8d0ec"/>
<text x="640.30" y="297.11" font-size="3.2" text-anchor="start" fill="#444" stroke="#444" stroke-width="0.03">1</text>
<line x1="635.00" y1="299.74" x2="636.20" y2="299.74" stroke="#333" stroke-width="0.55"/>
<rect x="636.20" y="298.44" width="5.20" height="2.60" fill="#b8d0ec"/>
<text x="642.90" y="301.04" font-size="4.0" text-anchor="start" fill="#000" stroke="#000" stroke-width="0.1">2</text>
<line x1="635.00" y1="303.67" x2="636.20" y2="303.67" stroke="#333" stroke-width="0.55"/>
<rect x="636.20" y="302.37" width="2.60" height="2.60" fill="#b8d0ec"/>
<text x="640.30" y="304.97" font-size="3.2" text-anchor="start" fill="#444" stroke="#444" stroke-width="0.03">1</text>
<line x1="635.00" y1="307.60" x2="636.20" y2="307.60" stroke="#333" stroke-width="0.55"/>
<rect x="636.20" y="306.30" width="10.40" height="2.60" fill="#b8d0ec"/>
<text x="648.10" y="308.90" font-size="4.0" text-anchor="start" fill="#000" stroke="#000" stroke-width="0.1">4</text>
<line x1="635.00" y1="311.52" x2="636.20" y2="311.52" stroke="#333" stroke-width="0.55"/>
<rect x="636.20" y="310.22" width="2.60" height="2.60" fill="#b8d0ec"/>
<text x="640.30" y="312.82" font-size="3.2" text-anchor="start" fill="#444" stroke="#444" stroke-width="0.03">1</text>
<line x1="635.00" y1="315.45" x2="636.20" y2="315.45" stroke="#333" stroke-width="0.55"/>
<rect x="636.20" y="314.15" width="2.60" height="2.60" fill="#b8d0ec"/>
<text x="640.30" y="316.75" font-size="3.2" text-anchor="start" fill="#444" stroke="#444" stroke-width="0.03">1</text>
<line x1="635.00" y1="319.38" x2="636.20" y2="319.38" stroke="#333" stroke-width="0.55"/>
<rect x="636.20" y="318.08" width="2.60" height="2.60" fill="#b8d0ec"/>
<text x="640.30" y="320.69" font-size="3.2" text-anchor="start" fill="#444" stroke="#444" stroke-width="0.03">1</text>
<line x1="635.00" y1="323.31" x2="636.20" y2="323.31" stroke="#333" stroke-width="0.55"/>
<rect x="636.20" y="322.01" width="2.60" height="2.60" fill="#b8d0ec"/>
<text x="640.30" y="324.62" font-size="3.2" text-anchor="start" fill="#444" stroke="#444" stroke-width="0.03">1</text>
<line x1="635.00" y1="327.25" x2="636.20" y2="327.25" stroke="#333" stroke-width="0.55"/>
<rect x="636.20" y="325.94" width="5.20" height="2.60" fill="#b8d0ec"/>
<text x="642.90" y="328.55" font-size="4.0" text-anchor="start" fill="#000" stroke="#000" stroke-width="0.1">2</text>
<line x1="635.00" y1="331.18" x2="636.20" y2="331.18" stroke="#333" stroke-width="0.55"/>
<rect x="636.20" y="329.88" width="2.60" height="2.60" fill="#b8d0ec"/>
<text x="640.30" y="332.48" font-size="3.2" text-anchor="start" fill="#444" stroke="#444" stroke-width="0.03">1</text>
<line x1="635.00" y1="335.11" x2="636.20" y2="335.11" stroke="#333" stroke-width="0.55"/>
<rect x="636.20" y="333.81" width="5.20" height="2.60" fill="#b8d0ec"/>
<text x="642.90" y="336.41" font-size="4.0" text-anchor="start" fill="#000" stroke="#000" stroke-width="0.1">2</text>
<line x1="635.00" y1="339.04" x2="636.20" y2="339.04" stroke="#333" stroke-width="0.55"/>
<rect x="636.20" y="337.74" width="2.60" height="2.60" fill="#b8d0ec"/>
<text x="640.30" y="340.34" font-size="3.2" text-anchor="start" fill="#444" stroke="#444" stroke-width="0.03">1</text>
<line x1="635.00" y1="342.97" x2="636.20" y2="342.97" stroke="#333" stroke-width="0.55"/>
<rect x="636.20" y="341.67" width="2.60" height="2.60" fill="#b8d0ec"/>
<text x="640.30" y="344.27" font-size="3.2" text-anchor="start" fill="#444" stroke="#444" stroke-width="0.03">1</text>
<line x1="635.00" y1="346.89" x2="636.20" y2="346.89" stroke="#333" stroke-width="0.55"/>
<rect x="636.20" y="345.59" width="7.80" height="2.60" fill="#b8d0ec"/>
<text x="645.50" y="348.19" font-size="4.0" text-anchor="start" fill="#000" stroke="#000" stroke-width="0.1">3</text>
<line x1="635.00" y1="350.82" x2="636.20" y2="350.82" stroke="#333" stroke-width="0.55"/>
<rect x="636.20" y="349.52" width="5.20" height="2.60" fill="#b8d0ec"/>
<text x="642.90" y="352.12" font-size="4.0" text-anchor="start" fill="#000" stroke="#000" stroke-width="0.1">2</text>
<line x1="635.00" y1="354.75" x2="636.20" y2="354.75" stroke="#333" stroke-width="0.55"/>
<rect x="636.20" y="353.45" width="2.60" height="2.60" fill="#b8d0ec"/>
<text x="640.30" y="356.06" font-size="3.2" text-anchor="start" fill="#444" stroke="#444" stroke-width="0.03">1</text>
<line x1="635.00" y1="358.69" x2="636.20" y2="358.69" stroke="#333" stroke-width="0.55"/>
<rect x="636.20" y="357.38" width="7.80" height="2.60" fill="#b8d0ec"/>
<text x="645.50" y="359.99" font-size="4.0" text-anchor="start" fill="#000" stroke="#000" stroke-width="0.1">3</text>
<line x1="635.00" y1="362.62" x2="636.20" y2="362.62" stroke="#333" stroke-width="0.55"/>
<rect x="636.20" y="361.31" width="2.60" height="2.60" fill="#b8d0ec"/>
<text x="640.30" y="363.92" font-size="3.2" text-anchor="start" fill="#444" stroke="#444" stroke-width="0.03">1</text>
<line x1="636.40" y1="364.60" x2="636.40" y2="365.60" stroke="#222" stroke-width="0.4"/>
<text transform="translate(637.90,368.00) rotate(-30)" font-size="3.9" stroke="#000" stroke-width="0.06" text-anchor="end">0</text>
<line x1="641.67" y1="364.60" x2="641.67" y2="365.60" stroke="#222" stroke-width="0.4"/>
<text transform="translate(643.17,368.00) rotate(-30)" font-size="3.9" stroke="#000" stroke-width="0.06" text-anchor="end">2</text>
<line x1="646.94" y1="364.60" x2="646.94" y2="365.60" stroke="#222" stroke-width="0.4"/>
<text transform="translate(648.44,368.00) rotate(-30)" font-size="3.9" stroke="#000" stroke-width="0.06" text-anchor="end">4</text>
<line x1="652.21" y1="364.60" x2="652.21" y2="365.60" stroke="#222" stroke-width="0.4"/>
<text transform="translate(653.71,368.00) rotate(-30)" font-size="3.9" stroke="#000" stroke-width="0.06" text-anchor="end">6</text>
<text x="648.60" y="376.70" font-size="4.6" text-anchor="middle" fill="#000" stroke="#000" stroke-width="0.05" textLength="30.6" lengthAdjust="spacingAndGlyphs">ARG subtypes</text>
<rect x="667.80" y="222.60" width="5.50" height="52.80" fill="url(#gf)"/>
<text x="673.00" y="219.60" font-size="4.5" text-anchor="middle" fill="#000" stroke="#000" stroke-width="0.05" font-weight="bold" textLength="21.2" lengthAdjust="spacingAndGlyphs">Frequency</text>
<line x1="673.30" y1="275.30" x2="674.50" y2="275.30" stroke="#333" stroke-width="0.4"/>
<text x="674.90" y="276.50" font-size="3.6" text-anchor="start" fill="#000" stroke="#000" stroke-width="0.06">0</text>
<line x1="673.30" y1="264.80" x2="674.50" y2="264.80" stroke="#333" stroke-width="0.4"/>
<text x="674.90" y="266.00" font-size="3.6" text-anchor="start" fill="#000" stroke="#000" stroke-width="0.06">0.2</text>
<line x1="673.30" y1="254.30" x2="674.50" y2="254.30" stroke="#333" stroke-width="0.4"/>
<text x="674.90" y="255.50" font-size="3.6" text-anchor="start" fill="#000" stroke="#000" stroke-width="0.06">0.4</text>
<line x1="673.30" y1="243.80" x2="674.50" y2="243.80" stroke="#333" stroke-width="0.4"/>
<text x="674.90" y="245.00" font-size="3.6" text-anchor="start" fill="#000" stroke="#000" stroke-width="0.06">0.6</text>
<line x1="673.30" y1="233.30" x2="674.50" y2="233.30" stroke="#333" stroke-width="0.4"/>
<text x="674.90" y="234.50" font-size="3.6" text-anchor="start" fill="#000" stroke="#000" stroke-width="0.06">0.8</text>
<line x1="673.30" y1="222.80" x2="674.50" y2="222.80" stroke="#333" stroke-width="0.4"/>
<text x="674.90" y="224.00" font-size="3.6" text-anchor="start" fill="#000" stroke="#000" stroke-width="0.06">1</text>
</svg></body></html>
